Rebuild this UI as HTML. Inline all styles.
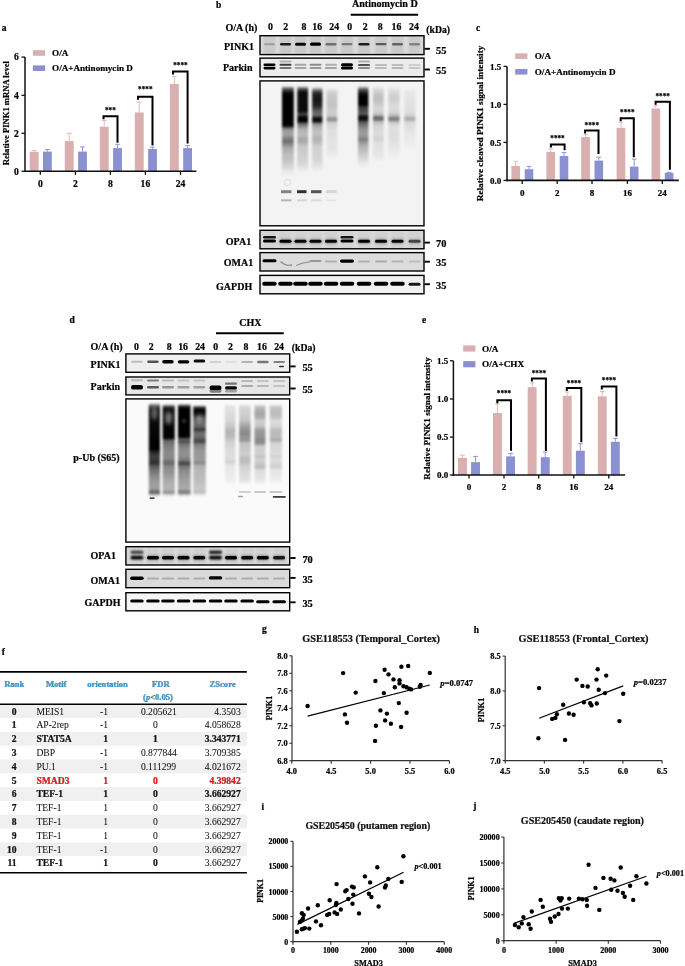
<!DOCTYPE html><html><head><meta charset="utf-8"><title>Figure</title><style>html,body{margin:0;padding:0;background:#fff;width:685px;height:966px;overflow:hidden}svg{display:block;will-change:transform;font-family:"Liberation Serif",serif;font-weight:bold}text{stroke:#000;stroke-width:.22px;paint-order:stroke}text[font-weight="normal"]{stroke-width:.06px}</style></head><body>
<svg width="685" height="966" viewBox="0 0 685 966">
<defs>
<filter id="b05" x="-50%" y="-200%" width="200%" height="500%"><feGaussianBlur stdDeviation="0.5"/></filter>
<filter id="b08" x="-50%" y="-200%" width="200%" height="500%"><feGaussianBlur stdDeviation="0.8"/></filter>
<filter id="b12" x="-50%" y="-100%" width="200%" height="300%"><feGaussianBlur stdDeviation="1.2"/></filter>
<filter id="b20" x="-50%" y="-50%" width="200%" height="200%"><feGaussianBlur stdDeviation="2"/></filter>
<linearGradient id="fadeDown" x1="0" y1="0" x2="0" y2="1"><stop offset="0" stop-color="#000" stop-opacity="1"/><stop offset="1" stop-color="#000" stop-opacity="0"/></linearGradient>
</defs>
<text x="1.8" y="31.0" font-size="9.5" >a</text>
<text x="216.1" y="8.4" font-size="9.5" >b</text>
<text x="476.0" y="30.9" font-size="9.5" >c</text>
<text x="69.4" y="323.0" font-size="9.5" >d</text>
<text x="422.0" y="322.6" font-size="9.5" >e</text>
<text x="1.8" y="655.4" font-size="9.5" >f</text>
<text x="261.9" y="632.2" font-size="9.5" >g</text>
<text x="473.8" y="633.2" font-size="9.5" >h</text>
<text x="261.6" y="809.5" font-size="9.5" >i</text>
<text x="473.2" y="809.2" font-size="9.5" >j</text>
<line x1="34.1" y1="151.8" x2="34.1" y2="150.4" stroke="#dfb9b9" stroke-width="1" />
<line x1="31.7" y1="150.4" x2="36.5" y2="150.4" stroke="#dfb9b9" stroke-width="1" />
<line x1="47.4" y1="151.6" x2="47.4" y2="149.5" stroke="#9196d6" stroke-width="1" />
<line x1="45.0" y1="149.5" x2="49.8" y2="149.5" stroke="#9196d6" stroke-width="1" />
<rect x="29.7" y="151.8" width="8.9" height="19.5" fill="#d9afaf" />
<rect x="43.0" y="151.6" width="8.8" height="19.7" fill="#8b90d0" />
<line x1="69.2" y1="141.1" x2="69.2" y2="133.3" stroke="#dfb9b9" stroke-width="1" />
<line x1="66.8" y1="133.3" x2="71.7" y2="133.3" stroke="#dfb9b9" stroke-width="1" />
<line x1="82.5" y1="151.6" x2="82.5" y2="146.9" stroke="#9196d6" stroke-width="1" />
<line x1="80.1" y1="146.9" x2="84.9" y2="146.9" stroke="#9196d6" stroke-width="1" />
<rect x="64.8" y="141.1" width="8.9" height="30.2" fill="#d9afaf" />
<rect x="78.1" y="151.6" width="8.8" height="19.7" fill="#8b90d0" />
<line x1="104.2" y1="126.7" x2="104.2" y2="120.4" stroke="#dfb9b9" stroke-width="1" />
<line x1="101.8" y1="120.4" x2="106.7" y2="120.4" stroke="#dfb9b9" stroke-width="1" />
<line x1="117.5" y1="148.1" x2="117.5" y2="144.3" stroke="#9196d6" stroke-width="1" />
<line x1="115.1" y1="144.3" x2="119.9" y2="144.3" stroke="#9196d6" stroke-width="1" />
<rect x="99.8" y="126.7" width="8.9" height="44.6" fill="#d9afaf" />
<rect x="113.1" y="148.1" width="8.8" height="23.2" fill="#8b90d0" />
<line x1="139.2" y1="112.5" x2="139.2" y2="102.0" stroke="#dfb9b9" stroke-width="1" />
<line x1="136.8" y1="102.0" x2="141.7" y2="102.0" stroke="#dfb9b9" stroke-width="1" />
<line x1="152.5" y1="149.0" x2="152.5" y2="147.2" stroke="#9196d6" stroke-width="1" />
<line x1="150.1" y1="147.2" x2="154.9" y2="147.2" stroke="#9196d6" stroke-width="1" />
<rect x="134.8" y="112.5" width="8.9" height="58.8" fill="#d9afaf" />
<rect x="148.1" y="149.0" width="8.8" height="22.3" fill="#8b90d0" />
<line x1="174.4" y1="84.0" x2="174.4" y2="76.4" stroke="#dfb9b9" stroke-width="1" />
<line x1="172.0" y1="76.4" x2="176.8" y2="76.4" stroke="#dfb9b9" stroke-width="1" />
<line x1="187.6" y1="148.1" x2="187.6" y2="145.6" stroke="#9196d6" stroke-width="1" />
<line x1="185.2" y1="145.6" x2="190.0" y2="145.6" stroke="#9196d6" stroke-width="1" />
<rect x="169.9" y="84.0" width="8.9" height="87.3" fill="#d9afaf" />
<rect x="183.2" y="148.1" width="8.8" height="23.2" fill="#8b90d0" />
<line x1="25.0" y1="57.1" x2="25.0" y2="172.1" stroke="#111" stroke-width="1.5" />
<line x1="24.2" y1="171.3" x2="196.4" y2="171.3" stroke="#111" stroke-width="1.6" />
<line x1="21.5" y1="57.1" x2="25.0" y2="57.1" stroke="#111" stroke-width="1.3" />
<text x="18.9" y="60.3" font-size="9.6" text-anchor="end" >6</text>
<line x1="21.5" y1="95.3" x2="25.0" y2="95.3" stroke="#111" stroke-width="1.3" />
<text x="18.9" y="98.5" font-size="9.6" text-anchor="end" >4</text>
<line x1="21.5" y1="133.3" x2="25.0" y2="133.3" stroke="#111" stroke-width="1.3" />
<text x="18.9" y="136.5" font-size="9.6" text-anchor="end" >2</text>
<line x1="21.5" y1="171.3" x2="25.0" y2="171.3" stroke="#111" stroke-width="1.3" />
<text x="18.9" y="174.5" font-size="9.6" text-anchor="end" >0</text>
<line x1="40.3" y1="171.3" x2="40.3" y2="174.8" stroke="#111" stroke-width="1.3" />
<text x="40.3" y="187.4" font-size="9.6" text-anchor="middle" >0</text>
<line x1="75.4" y1="171.3" x2="75.4" y2="174.8" stroke="#111" stroke-width="1.3" />
<text x="75.4" y="187.4" font-size="9.6" text-anchor="middle" >2</text>
<line x1="110.4" y1="171.3" x2="110.4" y2="174.8" stroke="#111" stroke-width="1.3" />
<text x="110.4" y="187.4" font-size="9.6" text-anchor="middle" >8</text>
<line x1="145.4" y1="171.3" x2="145.4" y2="174.8" stroke="#111" stroke-width="1.3" />
<text x="145.4" y="187.4" font-size="9.6" text-anchor="middle" >16</text>
<line x1="180.5" y1="171.3" x2="180.5" y2="174.8" stroke="#111" stroke-width="1.3" />
<text x="180.5" y="187.4" font-size="9.6" text-anchor="middle" >24</text>
<path d="M103.5,119.2 V116.2 H117.5 V142.8" fill="none" stroke="#000" stroke-width="2"/>
<path d="M138.0,99.8 V96.8 H152.5 V145.4" fill="none" stroke="#000" stroke-width="2"/>
<path d="M173.0,74.4 V71.4 H187.6 V143.5" fill="none" stroke="#000" stroke-width="2"/>
<text x="110.4" y="113.1" font-size="7.2" text-anchor="middle" >***</text>
<text x="145.3" y="91.6" font-size="7.2" text-anchor="middle" >****</text>
<text x="180.4" y="67.6" font-size="7.2" text-anchor="middle" >****</text>
<rect x="32.9" y="50.2" width="12.2" height="5.6" fill="#d9afaf" />
<rect x="32.9" y="65.4" width="12.2" height="5.6" fill="#8b90d0" />
<text x="52.1" y="56.1" font-size="9.1" >O/A</text>
<text x="52.1" y="71.2" font-size="9.1" >O/A+Antinomycin D</text>
<text transform="translate(9.3,165.3) rotate(-90)" font-size="8.6" text-anchor="start">Relative PINK1 mRNA level</text>
<line x1="515.8" y1="166.0" x2="515.8" y2="161.3" stroke="#dfb9b9" stroke-width="1" />
<line x1="513.4" y1="161.3" x2="518.1" y2="161.3" stroke="#dfb9b9" stroke-width="1" />
<line x1="529.0" y1="169.2" x2="529.0" y2="166.4" stroke="#9196d6" stroke-width="1" />
<line x1="526.6" y1="166.4" x2="531.4" y2="166.4" stroke="#9196d6" stroke-width="1" />
<rect x="511.4" y="166.0" width="8.7" height="14.4" fill="#d9afaf" />
<rect x="524.7" y="169.2" width="8.6" height="11.2" fill="#8b90d0" />
<line x1="550.8" y1="152.0" x2="550.8" y2="148.9" stroke="#dfb9b9" stroke-width="1" />
<line x1="548.4" y1="148.9" x2="553.1" y2="148.9" stroke="#dfb9b9" stroke-width="1" />
<line x1="564.0" y1="156.0" x2="564.0" y2="152.6" stroke="#9196d6" stroke-width="1" />
<line x1="561.6" y1="152.6" x2="566.4" y2="152.6" stroke="#9196d6" stroke-width="1" />
<rect x="546.4" y="152.0" width="8.7" height="28.4" fill="#d9afaf" />
<rect x="559.7" y="156.0" width="8.6" height="24.4" fill="#8b90d0" />
<line x1="585.5" y1="137.1" x2="585.5" y2="134.6" stroke="#dfb9b9" stroke-width="1" />
<line x1="583.1" y1="134.6" x2="587.9" y2="134.6" stroke="#dfb9b9" stroke-width="1" />
<line x1="598.8" y1="160.6" x2="598.8" y2="157.2" stroke="#9196d6" stroke-width="1" />
<line x1="596.4" y1="157.2" x2="601.2" y2="157.2" stroke="#9196d6" stroke-width="1" />
<rect x="581.2" y="137.1" width="8.7" height="43.3" fill="#d9afaf" />
<rect x="594.5" y="160.6" width="8.6" height="19.8" fill="#8b90d0" />
<line x1="621.0" y1="127.8" x2="621.0" y2="122.3" stroke="#dfb9b9" stroke-width="1" />
<line x1="618.6" y1="122.3" x2="623.4" y2="122.3" stroke="#dfb9b9" stroke-width="1" />
<line x1="634.2" y1="166.6" x2="634.2" y2="159.2" stroke="#9196d6" stroke-width="1" />
<line x1="631.8" y1="159.2" x2="636.6" y2="159.2" stroke="#9196d6" stroke-width="1" />
<rect x="616.6" y="127.8" width="8.7" height="52.6" fill="#d9afaf" />
<rect x="629.9" y="166.6" width="8.6" height="13.8" fill="#8b90d0" />
<line x1="655.8" y1="108.5" x2="655.8" y2="105.7" stroke="#dfb9b9" stroke-width="1" />
<line x1="653.4" y1="105.7" x2="658.2" y2="105.7" stroke="#dfb9b9" stroke-width="1" />
<line x1="669.1" y1="172.8" x2="669.1" y2="172.3" stroke="#9196d6" stroke-width="1" />
<line x1="666.7" y1="172.3" x2="671.5" y2="172.3" stroke="#9196d6" stroke-width="1" />
<rect x="651.5" y="108.5" width="8.7" height="71.9" fill="#d9afaf" />
<rect x="664.8" y="172.8" width="8.6" height="7.6" fill="#8b90d0" />
<line x1="507.0" y1="66.4" x2="507.0" y2="181.2" stroke="#111" stroke-width="1.5" />
<line x1="506.2" y1="180.4" x2="678.8" y2="180.4" stroke="#111" stroke-width="1.6" />
<line x1="503.5" y1="66.4" x2="507.0" y2="66.4" stroke="#111" stroke-width="1.3" />
<text x="501.2" y="69.6" font-size="9" text-anchor="end" >1.5</text>
<line x1="503.5" y1="104.4" x2="507.0" y2="104.4" stroke="#111" stroke-width="1.3" />
<text x="501.2" y="107.6" font-size="9" text-anchor="end" >1.0</text>
<line x1="503.5" y1="142.4" x2="507.0" y2="142.4" stroke="#111" stroke-width="1.3" />
<text x="501.2" y="145.6" font-size="9" text-anchor="end" >0.5</text>
<line x1="503.5" y1="180.4" x2="507.0" y2="180.4" stroke="#111" stroke-width="1.3" />
<text x="501.2" y="183.6" font-size="9" text-anchor="end" >0.0</text>
<line x1="522.2" y1="180.4" x2="522.2" y2="183.9" stroke="#111" stroke-width="1.3" />
<text x="522.2" y="195.8" font-size="9" text-anchor="middle" >0</text>
<line x1="557.2" y1="180.4" x2="557.2" y2="183.9" stroke="#111" stroke-width="1.3" />
<text x="557.2" y="195.8" font-size="9" text-anchor="middle" >2</text>
<line x1="592.0" y1="180.4" x2="592.0" y2="183.9" stroke="#111" stroke-width="1.3" />
<text x="592.0" y="195.8" font-size="9" text-anchor="middle" >8</text>
<line x1="627.4" y1="180.4" x2="627.4" y2="183.9" stroke="#111" stroke-width="1.3" />
<text x="627.4" y="195.8" font-size="9" text-anchor="middle" >16</text>
<line x1="662.3" y1="180.4" x2="662.3" y2="183.9" stroke="#111" stroke-width="1.3" />
<text x="662.3" y="195.8" font-size="9" text-anchor="middle" >24</text>
<path d="M550.9,147.5 V144.5 H564.6 V150.3" fill="none" stroke="#000" stroke-width="2"/>
<path d="M585.1,133.4 V130.4 H598.5 V153.9" fill="none" stroke="#000" stroke-width="2"/>
<path d="M620.7,121.3 V118.3 H633.8 V157.2" fill="none" stroke="#000" stroke-width="2"/>
<path d="M655.6,104.8 V101.8 H669.9 V169.8" fill="none" stroke="#000" stroke-width="2"/>
<text x="557.5" y="140.7" font-size="7.2" text-anchor="middle" >****</text>
<text x="591.8" y="127.6" font-size="7.2" text-anchor="middle" >****</text>
<text x="627.3" y="115.2" font-size="7.2" text-anchor="middle" >****</text>
<text x="662.7" y="99.0" font-size="7.2" text-anchor="middle" >****</text>
<rect x="515.2" y="53.3" width="12.2" height="5.6" fill="#d9afaf" />
<rect x="515.2" y="69.0" width="12.2" height="5.6" fill="#8b90d0" />
<text x="534.8" y="59.4" font-size="9.1" >O/A</text>
<text x="534.8" y="74.9" font-size="9.1" >O/A+Antinomycin D</text>
<text transform="translate(482.8,201.3) rotate(-90)" font-size="9.25" text-anchor="start">Relative cleaved PINK1 signal intensity</text>
<line x1="462.4" y1="457.8" x2="462.4" y2="455.2" stroke="#dfb9b9" stroke-width="1" />
<line x1="460.1" y1="455.2" x2="464.8" y2="455.2" stroke="#dfb9b9" stroke-width="1" />
<line x1="475.6" y1="462.2" x2="475.6" y2="456.4" stroke="#9196d6" stroke-width="1" />
<line x1="473.2" y1="456.4" x2="477.9" y2="456.4" stroke="#9196d6" stroke-width="1" />
<rect x="458.0" y="457.8" width="8.9" height="17.2" fill="#d9afaf" />
<rect x="471.1" y="462.2" width="8.9" height="12.8" fill="#8b90d0" />
<line x1="497.4" y1="413.1" x2="497.4" y2="403.9" stroke="#dfb9b9" stroke-width="1" />
<line x1="495.1" y1="403.9" x2="499.8" y2="403.9" stroke="#dfb9b9" stroke-width="1" />
<line x1="510.6" y1="456.4" x2="510.6" y2="453.4" stroke="#9196d6" stroke-width="1" />
<line x1="508.2" y1="453.4" x2="513.0" y2="453.4" stroke="#9196d6" stroke-width="1" />
<rect x="493.0" y="413.1" width="8.9" height="61.9" fill="#d9afaf" />
<rect x="506.1" y="456.4" width="8.9" height="18.6" fill="#8b90d0" />
<line x1="532.2" y1="387.2" x2="532.2" y2="382.8" stroke="#dfb9b9" stroke-width="1" />
<line x1="529.8" y1="382.8" x2="534.6" y2="382.8" stroke="#dfb9b9" stroke-width="1" />
<line x1="545.2" y1="457.2" x2="545.2" y2="452.0" stroke="#9196d6" stroke-width="1" />
<line x1="542.9" y1="452.0" x2="547.6" y2="452.0" stroke="#9196d6" stroke-width="1" />
<rect x="527.7" y="387.2" width="8.9" height="87.8" fill="#d9afaf" />
<rect x="540.8" y="457.2" width="8.9" height="17.8" fill="#8b90d0" />
<line x1="567.2" y1="395.9" x2="567.2" y2="392.0" stroke="#dfb9b9" stroke-width="1" />
<line x1="564.9" y1="392.0" x2="569.6" y2="392.0" stroke="#dfb9b9" stroke-width="1" />
<line x1="580.3" y1="450.7" x2="580.3" y2="443.7" stroke="#9196d6" stroke-width="1" />
<line x1="577.9" y1="443.7" x2="582.7" y2="443.7" stroke="#9196d6" stroke-width="1" />
<rect x="562.8" y="395.9" width="8.9" height="79.1" fill="#d9afaf" />
<rect x="575.9" y="450.7" width="8.9" height="24.3" fill="#8b90d0" />
<line x1="602.2" y1="396.3" x2="602.2" y2="391.5" stroke="#dfb9b9" stroke-width="1" />
<line x1="599.9" y1="391.5" x2="604.6" y2="391.5" stroke="#dfb9b9" stroke-width="1" />
<line x1="615.3" y1="441.8" x2="615.3" y2="438.5" stroke="#9196d6" stroke-width="1" />
<line x1="612.9" y1="438.5" x2="617.7" y2="438.5" stroke="#9196d6" stroke-width="1" />
<rect x="597.8" y="396.3" width="8.9" height="78.7" fill="#d9afaf" />
<rect x="610.9" y="441.8" width="8.9" height="33.2" fill="#8b90d0" />
<line x1="453.4" y1="360.8" x2="453.4" y2="475.8" stroke="#111" stroke-width="1.5" />
<line x1="452.6" y1="475.0" x2="625.1" y2="475.0" stroke="#111" stroke-width="1.6" />
<line x1="449.9" y1="360.8" x2="453.4" y2="360.8" stroke="#111" stroke-width="1.3" />
<text x="448.3" y="364.0" font-size="9" text-anchor="end" >1.5</text>
<line x1="449.9" y1="399.0" x2="453.4" y2="399.0" stroke="#111" stroke-width="1.3" />
<text x="448.3" y="402.2" font-size="9" text-anchor="end" >1.0</text>
<line x1="449.9" y1="437.1" x2="453.4" y2="437.1" stroke="#111" stroke-width="1.3" />
<text x="448.3" y="440.3" font-size="9" text-anchor="end" >0.5</text>
<line x1="449.9" y1="475.0" x2="453.4" y2="475.0" stroke="#111" stroke-width="1.3" />
<text x="448.3" y="478.2" font-size="9" text-anchor="end" >0.0</text>
<line x1="469.0" y1="475.0" x2="469.0" y2="478.5" stroke="#111" stroke-width="1.3" />
<text x="469.0" y="489.6" font-size="9" text-anchor="middle" >0</text>
<line x1="504.0" y1="475.0" x2="504.0" y2="478.5" stroke="#111" stroke-width="1.3" />
<text x="504.0" y="489.6" font-size="9" text-anchor="middle" >2</text>
<line x1="538.7" y1="475.0" x2="538.7" y2="478.5" stroke="#111" stroke-width="1.3" />
<text x="538.7" y="489.6" font-size="9" text-anchor="middle" >8</text>
<line x1="573.8" y1="475.0" x2="573.8" y2="478.5" stroke="#111" stroke-width="1.3" />
<text x="573.8" y="489.6" font-size="9" text-anchor="middle" >16</text>
<line x1="608.8" y1="475.0" x2="608.8" y2="478.5" stroke="#111" stroke-width="1.3" />
<text x="608.8" y="489.6" font-size="9" text-anchor="middle" >24</text>
<path d="M497.3,403.2 V400.2 H511.0 V450.8" fill="none" stroke="#000" stroke-width="2"/>
<path d="M531.9,381.4 V378.4 H545.9 V451.1" fill="none" stroke="#000" stroke-width="2"/>
<path d="M566.8,391.0 V388.0 H581.3 V442.3" fill="none" stroke="#000" stroke-width="2"/>
<path d="M601.8,389.6 V386.6 H616.4 V436.6" fill="none" stroke="#000" stroke-width="2"/>
<text x="504.0" y="395.9" font-size="7.2" text-anchor="middle" >****</text>
<text x="538.9" y="376.2" font-size="7.2" text-anchor="middle" >****</text>
<text x="574.0" y="385.5" font-size="7.2" text-anchor="middle" >****</text>
<text x="609.0" y="382.9" font-size="7.2" text-anchor="middle" >****</text>
<rect x="463.2" y="345.4" width="12.2" height="6.2" fill="#d9afaf" />
<rect x="463.2" y="361.1" width="12.2" height="6.2" fill="#8b90d0" />
<text x="482.1" y="352.0" font-size="9.2" >O/A</text>
<text x="482.1" y="367.4" font-size="9.2" >O/A+CHX</text>
<text transform="translate(430.4,479.7) rotate(-90)" font-size="9.15" text-anchor="start">Relative PINK1 signal intensity</text>
<text x="225.4" y="30.6" font-size="10" >O/A (h)</text>
<text x="270.4" y="30.4" font-size="9.8" text-anchor="middle" >0</text>
<text x="285.8" y="30.4" font-size="9.8" text-anchor="middle" >2</text>
<text x="304.0" y="30.4" font-size="9.8" text-anchor="middle" >8</text>
<text x="317.2" y="30.4" font-size="9.8" text-anchor="middle" >16</text>
<text x="334.2" y="30.4" font-size="9.8" text-anchor="middle" >24</text>
<text x="349.8" y="30.4" font-size="9.8" text-anchor="middle" >0</text>
<text x="365.2" y="30.4" font-size="9.8" text-anchor="middle" >2</text>
<text x="380.3" y="30.4" font-size="9.8" text-anchor="middle" >8</text>
<text x="396.5" y="30.4" font-size="9.8" text-anchor="middle" >16</text>
<text x="414.0" y="30.4" font-size="9.8" text-anchor="middle" >24</text>
<text x="351.9" y="7.3" font-size="10.1" >Antinomycin D</text>
<line x1="350.7" y1="14.8" x2="418.1" y2="14.8" stroke="#000" stroke-width="2" />
<text x="426.3" y="33.4" font-size="9.7" >(kDa)</text>
<line x1="424.6" y1="48.8" x2="429.9" y2="48.8" stroke="#000" stroke-width="1.9" />
<text x="436.0" y="53.5" font-size="10.4" >55</text>
<line x1="424.6" y1="69.5" x2="429.9" y2="69.5" stroke="#000" stroke-width="1.9" />
<text x="436.0" y="74.2" font-size="10.4" >55</text>
<line x1="424.6" y1="242.6" x2="429.9" y2="242.6" stroke="#000" stroke-width="1.9" />
<text x="436.0" y="247.3" font-size="10.4" >70</text>
<line x1="424.6" y1="261.7" x2="429.9" y2="261.7" stroke="#000" stroke-width="1.9" />
<text x="436.0" y="266.4" font-size="10.4" >35</text>
<line x1="424.6" y1="284.2" x2="429.9" y2="284.2" stroke="#000" stroke-width="1.9" />
<text x="436.0" y="288.9" font-size="10.4" >35</text>
<text x="224.0" y="50.3" font-size="10" >PINK1</text>
<text x="223.0" y="71.0" font-size="10" >Parkin</text>
<text x="225.8" y="245.4" font-size="10" >OPA1</text>
<text x="223.7" y="265.9" font-size="10" >OMA1</text>
<text x="216.1" y="289.7" font-size="10" >GAPDH</text>
<clipPath id="c1"><rect x="260.0" y="35.7" width="164.0" height="18.9"/></clipPath>
<rect x="260.0" y="35.7" width="164.0" height="18.9" fill="#dadada"/>
<g clip-path="url(#c1)">
<rect x="263.5" y="35.7" width="12" height="18.9" fill="#000" opacity="0.07" filter="url(#b12)"/>
<rect x="279.5" y="35.7" width="12" height="18.9" fill="#000" opacity="0.07" filter="url(#b12)"/>
<rect x="294.5" y="35.7" width="12" height="18.9" fill="#000" opacity="0.07" filter="url(#b12)"/>
<rect x="309.5" y="35.7" width="12" height="18.9" fill="#000" opacity="0.07" filter="url(#b12)"/>
<rect x="325.0" y="35.7" width="12" height="18.9" fill="#000" opacity="0.07" filter="url(#b12)"/>
<rect x="341.0" y="35.7" width="12" height="18.9" fill="#000" opacity="0.07" filter="url(#b12)"/>
<rect x="358.0" y="35.7" width="12" height="18.9" fill="#000" opacity="0.07" filter="url(#b12)"/>
<rect x="375.0" y="35.7" width="12" height="18.9" fill="#000" opacity="0.07" filter="url(#b12)"/>
<rect x="391.5" y="35.7" width="12" height="18.9" fill="#000" opacity="0.07" filter="url(#b12)"/>
<rect x="408.5" y="35.7" width="12" height="18.9" fill="#000" opacity="0.07" filter="url(#b12)"/>
<rect x="264.0" y="43.2" width="11.0" height="2.0" rx="1.0" fill="#000" opacity="0.22" filter="url(#b05)"/>
<rect x="280.0" y="42.9" width="11.0" height="2.6" rx="1.3" fill="#000" opacity="0.85" filter="url(#b05)"/>
<rect x="295.0" y="42.7" width="11.0" height="3.0" rx="1.5" fill="#000" opacity="0.95" filter="url(#b05)"/>
<rect x="310.0" y="42.6" width="11.0" height="3.2" rx="1.6" fill="#000" opacity="1" filter="url(#b05)"/>
<rect x="325.5" y="43.0" width="11.0" height="2.4" rx="1.2" fill="#000" opacity="0.45" filter="url(#b05)"/>
<rect x="341.5" y="43.1" width="11.0" height="2.2" rx="1.1" fill="#000" opacity="0.4" filter="url(#b05)"/>
<rect x="358.5" y="42.9" width="11.0" height="2.6" rx="1.3" fill="#000" opacity="0.85" filter="url(#b05)"/>
<rect x="375.5" y="43.1" width="11.0" height="2.2" rx="1.1" fill="#000" opacity="0.55" filter="url(#b05)"/>
<rect x="392.0" y="43.0" width="11.0" height="2.4" rx="1.2" fill="#000" opacity="0.5" filter="url(#b05)"/>
<rect x="409.0" y="43.0" width="11.0" height="2.4" rx="1.2" fill="#000" opacity="0.35" filter="url(#b05)"/>

</g>
<rect x="260.0" y="35.7" width="164.0" height="18.9" fill="none" stroke="#000" stroke-width="1.4"/>
<clipPath id="c2"><rect x="260.0" y="58.1" width="164.0" height="18.7"/></clipPath>
<rect x="260.0" y="58.1" width="164.0" height="18.7" fill="#ececec"/>
<g clip-path="url(#c2)">
<rect x="263.5" y="63.5" width="12.0" height="2.6" rx="1.3" fill="#000" opacity="1" filter="url(#b05)"/>
<rect x="263.5" y="66.8" width="12.0" height="2.6" rx="1.3" fill="#000" opacity="1" filter="url(#b05)"/>
<rect x="279.5" y="60.5" width="12.0" height="2.0" rx="1.0" fill="#000" opacity="0.25" filter="url(#b05)"/>
<rect x="279.5" y="63.8" width="12.0" height="2.0" rx="1.0" fill="#000" opacity="0.75" filter="url(#b05)"/>
<rect x="279.5" y="67.1" width="12.0" height="2.0" rx="1.0" fill="#000" opacity="0.5" filter="url(#b05)"/>
<rect x="294.5" y="63.8" width="12.0" height="2.0" rx="1.0" fill="#000" opacity="0.3" filter="url(#b05)"/>
<rect x="294.5" y="67.1" width="12.0" height="2.0" rx="1.0" fill="#000" opacity="0.3" filter="url(#b05)"/>
<rect x="309.5" y="63.8" width="12.0" height="2.0" rx="1.0" fill="#000" opacity="0.4" filter="url(#b05)"/>
<rect x="309.5" y="67.1" width="12.0" height="2.0" rx="1.0" fill="#000" opacity="0.35" filter="url(#b05)"/>
<rect x="325.0" y="63.8" width="12.0" height="2.0" rx="1.0" fill="#000" opacity="0.25" filter="url(#b05)"/>
<rect x="325.0" y="67.1" width="12.0" height="2.0" rx="1.0" fill="#000" opacity="0.3" filter="url(#b05)"/>
<rect x="341.0" y="63.3" width="12.0" height="3.0" rx="1.5" fill="#000" opacity="1" filter="url(#b05)"/>
<rect x="341.0" y="66.6" width="12.0" height="3.0" rx="1.5" fill="#000" opacity="1" filter="url(#b05)"/>
<rect x="358.0" y="60.6" width="12.0" height="2.0" rx="1.0" fill="#000" opacity="0.25" filter="url(#b05)"/>
<rect x="358.0" y="64.0" width="12.0" height="2.0" rx="1.0" fill="#000" opacity="0.65" filter="url(#b05)"/>
<rect x="358.0" y="67.0" width="12.0" height="2.0" rx="1.0" fill="#000" opacity="0.4" filter="url(#b05)"/>
<rect x="375.0" y="64.0" width="12.0" height="2.0" rx="1.0" fill="#000" opacity="0.2" filter="url(#b05)"/>
<rect x="375.0" y="67.0" width="12.0" height="2.0" rx="1.0" fill="#000" opacity="0.2" filter="url(#b05)"/>
<rect x="391.5" y="64.0" width="12.0" height="2.0" rx="1.0" fill="#000" opacity="0.2" filter="url(#b05)"/>
<rect x="391.5" y="67.0" width="12.0" height="2.0" rx="1.0" fill="#000" opacity="0.22" filter="url(#b05)"/>
<rect x="408.5" y="64.0" width="12.0" height="2.0" rx="1.0" fill="#000" opacity="0.12" filter="url(#b05)"/>
<rect x="408.5" y="67.0" width="12.0" height="2.0" rx="1.0" fill="#000" opacity="0.15" filter="url(#b05)"/>

</g>
<rect x="260.0" y="58.1" width="164.0" height="18.7" fill="none" stroke="#000" stroke-width="1.4"/>
<clipPath id="c3"><rect x="260.0" y="80.9" width="164.0" height="144.9"/></clipPath>
<rect x="260.0" y="80.9" width="164.0" height="144.9" fill="#f3f3f3"/>
<g clip-path="url(#c3)">
<linearGradient id="g1" gradientUnits="userSpaceOnUse" x1="0" y1="86" x2="0" y2="176"><stop offset="0.0000" stop-opacity="0"/><stop offset="0.0278" stop-opacity="0.6"/><stop offset="0.0667" stop-opacity="0.9"/><stop offset="0.0889" stop-opacity="1"/><stop offset="0.4389" stop-opacity="1"/><stop offset="0.4722" stop-opacity="0.5"/><stop offset="0.5000" stop-opacity="0.35"/><stop offset="0.5444" stop-opacity="0.33"/><stop offset="0.5889" stop-opacity="0.5"/><stop offset="0.6222" stop-opacity="0.55"/><stop offset="0.6556" stop-opacity="0.4"/><stop offset="0.7000" stop-opacity="0.28"/><stop offset="0.7667" stop-opacity="0.22"/><stop offset="0.8444" stop-opacity="0.18"/><stop offset="0.9111" stop-opacity="0.1"/><stop offset="0.9556" stop-opacity="0.04"/><stop offset="1.0000" stop-opacity="0"/></linearGradient><rect x="282.0" y="86.0" width="11.8" height="90.0" rx="1.5" fill="url(#g1)" filter="url(#b12)"/><linearGradient id="g2" gradientUnits="userSpaceOnUse" x1="0" y1="86" x2="0" y2="172"><stop offset="0.0000" stop-opacity="0"/><stop offset="0.0291" stop-opacity="0.6"/><stop offset="0.0698" stop-opacity="0.95"/><stop offset="0.3023" stop-opacity="0.95"/><stop offset="0.3198" stop-opacity="0.7"/><stop offset="0.3430" stop-opacity="0.8"/><stop offset="0.3663" stop-opacity="1"/><stop offset="0.4128" stop-opacity="1"/><stop offset="0.4360" stop-opacity="0.6"/><stop offset="0.4651" stop-opacity="0.45"/><stop offset="0.5000" stop-opacity="0.28"/><stop offset="0.5698" stop-opacity="0.22"/><stop offset="0.6163" stop-opacity="0.32"/><stop offset="0.6512" stop-opacity="0.3"/><stop offset="0.6977" stop-opacity="0.18"/><stop offset="0.8605" stop-opacity="0.14"/><stop offset="0.9535" stop-opacity="0.07"/><stop offset="1.0000" stop-opacity="0"/></linearGradient><rect x="297.3" y="86.0" width="10.8" height="86.0" rx="1.5" fill="url(#g2)" filter="url(#b12)"/><linearGradient id="g3" gradientUnits="userSpaceOnUse" x1="0" y1="87" x2="0" y2="172"><stop offset="0.0000" stop-opacity="0"/><stop offset="0.0294" stop-opacity="0.45"/><stop offset="0.0706" stop-opacity="0.85"/><stop offset="0.1529" stop-opacity="0.92"/><stop offset="0.2235" stop-opacity="0.85"/><stop offset="0.2706" stop-opacity="0.65"/><stop offset="0.3176" stop-opacity="0.55"/><stop offset="0.3412" stop-opacity="0.6"/><stop offset="0.3647" stop-opacity="0.95"/><stop offset="0.4059" stop-opacity="0.95"/><stop offset="0.4294" stop-opacity="0.45"/><stop offset="0.4706" stop-opacity="0.28"/><stop offset="0.5294" stop-opacity="0.2"/><stop offset="0.6118" stop-opacity="0.26"/><stop offset="0.6471" stop-opacity="0.24"/><stop offset="0.6941" stop-opacity="0.15"/><stop offset="0.8588" stop-opacity="0.12"/><stop offset="0.9529" stop-opacity="0.05"/><stop offset="1.0000" stop-opacity="0"/></linearGradient><rect x="312.1" y="87.0" width="10.3" height="85.0" rx="1.5" fill="url(#g3)" filter="url(#b12)"/><linearGradient id="g4" gradientUnits="userSpaceOnUse" x1="0" y1="88" x2="0" y2="160"><stop offset="0.0000" stop-opacity="0"/><stop offset="0.0417" stop-opacity="0.12"/><stop offset="0.1111" stop-opacity="0.18"/><stop offset="0.2361" stop-opacity="0.2"/><stop offset="0.3333" stop-opacity="0.15"/><stop offset="0.3889" stop-opacity="0.18"/><stop offset="0.4236" stop-opacity="0.4"/><stop offset="0.4514" stop-opacity="0.4"/><stop offset="0.4792" stop-opacity="0.15"/><stop offset="0.5833" stop-opacity="0.08"/><stop offset="0.8611" stop-opacity="0.06"/><stop offset="1.0000" stop-opacity="0"/></linearGradient><rect x="326.6" y="88.0" width="10.7" height="72.0" rx="1.5" fill="url(#g4)" filter="url(#b08)"/><linearGradient id="g5" gradientUnits="userSpaceOnUse" x1="0" y1="86" x2="0" y2="168"><stop offset="0.0000" stop-opacity="0"/><stop offset="0.0366" stop-opacity="0.6"/><stop offset="0.0854" stop-opacity="0.9"/><stop offset="0.1220" stop-opacity="1"/><stop offset="0.2317" stop-opacity="1"/><stop offset="0.2561" stop-opacity="0.75"/><stop offset="0.2927" stop-opacity="0.72"/><stop offset="0.3415" stop-opacity="0.62"/><stop offset="0.3720" stop-opacity="0.95"/><stop offset="0.4146" stop-opacity="0.95"/><stop offset="0.4390" stop-opacity="0.62"/><stop offset="0.4756" stop-opacity="0.55"/><stop offset="0.5122" stop-opacity="0.42"/><stop offset="0.5732" stop-opacity="0.35"/><stop offset="0.6220" stop-opacity="0.4"/><stop offset="0.6524" stop-opacity="0.5"/><stop offset="0.6829" stop-opacity="0.38"/><stop offset="0.7317" stop-opacity="0.28"/><stop offset="0.8049" stop-opacity="0.2"/><stop offset="0.8780" stop-opacity="0.12"/><stop offset="0.9390" stop-opacity="0.05"/><stop offset="1.0000" stop-opacity="0"/></linearGradient><rect x="358.0" y="86.0" width="10.4" height="82.0" rx="1.5" fill="url(#g5)" filter="url(#b08)"/><linearGradient id="g6" gradientUnits="userSpaceOnUse" x1="0" y1="86" x2="0" y2="162"><stop offset="0.0000" stop-opacity="0"/><stop offset="0.0395" stop-opacity="0.1"/><stop offset="0.1184" stop-opacity="0.2"/><stop offset="0.1711" stop-opacity="0.22"/><stop offset="0.2368" stop-opacity="0.17"/><stop offset="0.2895" stop-opacity="0.12"/><stop offset="0.3421" stop-opacity="0.14"/><stop offset="0.3816" stop-opacity="0.22"/><stop offset="0.4079" stop-opacity="0.55"/><stop offset="0.4408" stop-opacity="0.6"/><stop offset="0.4671" stop-opacity="0.25"/><stop offset="0.5263" stop-opacity="0.12"/><stop offset="0.6447" stop-opacity="0.1"/><stop offset="0.6974" stop-opacity="0.14"/><stop offset="0.7500" stop-opacity="0.08"/><stop offset="0.9079" stop-opacity="0.05"/><stop offset="1.0000" stop-opacity="0"/></linearGradient><rect x="373.0" y="86.0" width="10.7" height="76.0" rx="1.5" fill="url(#g6)" filter="url(#b08)"/><linearGradient id="g7" gradientUnits="userSpaceOnUse" x1="0" y1="86" x2="0" y2="160"><stop offset="0.0000" stop-opacity="0"/><stop offset="0.0405" stop-opacity="0.07"/><stop offset="0.1351" stop-opacity="0.15"/><stop offset="0.1892" stop-opacity="0.15"/><stop offset="0.2703" stop-opacity="0.1"/><stop offset="0.3514" stop-opacity="0.11"/><stop offset="0.4054" stop-opacity="0.25"/><stop offset="0.4324" stop-opacity="0.5"/><stop offset="0.4595" stop-opacity="0.5"/><stop offset="0.4865" stop-opacity="0.18"/><stop offset="0.5541" stop-opacity="0.08"/><stop offset="0.7162" stop-opacity="0.09"/><stop offset="0.8649" stop-opacity="0.04"/><stop offset="1.0000" stop-opacity="0"/></linearGradient><rect x="388.3" y="86.0" width="11.3" height="74.0" rx="1.5" fill="url(#g7)" filter="url(#b08)"/><linearGradient id="g8" gradientUnits="userSpaceOnUse" x1="0" y1="88" x2="0" y2="150"><stop offset="0.0000" stop-opacity="0"/><stop offset="0.0645" stop-opacity="0.05"/><stop offset="0.1935" stop-opacity="0.07"/><stop offset="0.3871" stop-opacity="0.08"/><stop offset="0.4516" stop-opacity="0.15"/><stop offset="0.4839" stop-opacity="0.3"/><stop offset="0.5161" stop-opacity="0.3"/><stop offset="0.5484" stop-opacity="0.1"/><stop offset="0.7581" stop-opacity="0.05"/><stop offset="1.0000" stop-opacity="0"/></linearGradient><rect x="404.2" y="88.0" width="11.2" height="62.0" rx="1.5" fill="url(#g8)" filter="url(#b08)"/><rect x="281.0" y="190.2" width="10.5" height="3.0" fill="#000" opacity="0.45" filter="url(#b05)"/><rect x="281.0" y="199.3" width="10.5" height="2.0" fill="#000" opacity="0.25" filter="url(#b05)"/><rect x="297.0" y="190.2" width="9.5" height="3.0" fill="#000" opacity="0.8" filter="url(#b05)"/><rect x="297.0" y="199.3" width="9.5" height="2.0" fill="#000" opacity="0.12" filter="url(#b05)"/><rect x="311.0" y="190.2" width="10.5" height="3.0" fill="#000" opacity="0.65" filter="url(#b05)"/><rect x="311.0" y="199.3" width="10.5" height="2.0" fill="#000" opacity="0.1" filter="url(#b05)"/><rect x="326.0" y="190.2" width="10.5" height="3.0" fill="#000" opacity="0.12" filter="url(#b05)"/><rect x="326.0" y="199.3" width="10.5" height="2.0" fill="#000" opacity="0.05" filter="url(#b05)"/><circle cx="287.5" cy="182.5" r="3.2" fill="none" stroke="#000" stroke-width=".8" opacity=".12"/>
</g>
<rect x="260.0" y="80.9" width="164.0" height="144.9" fill="none" stroke="#000" stroke-width="1.4"/>
<clipPath id="c4"><rect x="260.0" y="230.3" width="164.0" height="18.5"/></clipPath>
<rect x="260.0" y="230.3" width="164.0" height="18.5" fill="#d8d8d8"/>
<g clip-path="url(#c4)">
<rect x="263.5" y="230.3" width="12" height="18.5" fill="#000" opacity="0.03" filter="url(#b12)"/>
<rect x="279.5" y="230.3" width="12" height="18.5" fill="#000" opacity="0.03" filter="url(#b12)"/>
<rect x="294.5" y="230.3" width="12" height="18.5" fill="#000" opacity="0.03" filter="url(#b12)"/>
<rect x="309.5" y="230.3" width="12" height="18.5" fill="#000" opacity="0.03" filter="url(#b12)"/>
<rect x="325.0" y="230.3" width="12" height="18.5" fill="#000" opacity="0.03" filter="url(#b12)"/>
<rect x="341.0" y="230.3" width="12" height="18.5" fill="#000" opacity="0.03" filter="url(#b12)"/>
<rect x="358.0" y="230.3" width="12" height="18.5" fill="#000" opacity="0.03" filter="url(#b12)"/>
<rect x="375.0" y="230.3" width="12" height="18.5" fill="#000" opacity="0.03" filter="url(#b12)"/>
<rect x="391.5" y="230.3" width="12" height="18.5" fill="#000" opacity="0.03" filter="url(#b12)"/>
<rect x="408.5" y="230.3" width="12" height="18.5" fill="#000" opacity="0.03" filter="url(#b12)"/>
<rect x="263.0" y="236.1" width="13.0" height="2.4" rx="1.2" fill="#000" opacity="0.9" filter="url(#b05)"/>
<rect x="263.0" y="239.5" width="13.0" height="3.0" rx="1.5" fill="#000" opacity="1" filter="url(#b05)"/>
<rect x="279.5" y="239.7" width="12.0" height="3.0" rx="1.5" fill="#000" opacity="1" filter="url(#b05)"/>
<rect x="279.0" y="238.7" width="13.0" height="5.0" rx="2.5" fill="#000" opacity="0.3" filter="url(#b08)"/>
<rect x="294.5" y="239.7" width="12.0" height="3.0" rx="1.5" fill="#000" opacity="0.95" filter="url(#b05)"/>
<rect x="294.0" y="238.7" width="13.0" height="5.0" rx="2.5" fill="#000" opacity="0.285" filter="url(#b08)"/>
<rect x="309.5" y="239.7" width="12.0" height="3.0" rx="1.5" fill="#000" opacity="0.95" filter="url(#b05)"/>
<rect x="309.0" y="238.7" width="13.0" height="5.0" rx="2.5" fill="#000" opacity="0.285" filter="url(#b08)"/>
<rect x="325.0" y="239.7" width="12.0" height="3.0" rx="1.5" fill="#000" opacity="0.95" filter="url(#b05)"/>
<rect x="324.5" y="238.7" width="13.0" height="5.0" rx="2.5" fill="#000" opacity="0.285" filter="url(#b08)"/>
<rect x="340.5" y="236.1" width="13.0" height="2.4" rx="1.2" fill="#000" opacity="0.9" filter="url(#b05)"/>
<rect x="340.5" y="239.5" width="13.0" height="3.0" rx="1.5" fill="#000" opacity="1" filter="url(#b05)"/>
<rect x="358.0" y="239.7" width="12.0" height="3.0" rx="1.5" fill="#000" opacity="1" filter="url(#b05)"/>
<rect x="357.5" y="238.7" width="13.0" height="5.0" rx="2.5" fill="#000" opacity="0.3" filter="url(#b08)"/>
<rect x="375.0" y="239.7" width="12.0" height="3.0" rx="1.5" fill="#000" opacity="0.95" filter="url(#b05)"/>
<rect x="374.5" y="238.7" width="13.0" height="5.0" rx="2.5" fill="#000" opacity="0.285" filter="url(#b08)"/>
<rect x="391.5" y="239.7" width="12.0" height="3.0" rx="1.5" fill="#000" opacity="0.95" filter="url(#b05)"/>
<rect x="391.0" y="238.7" width="13.0" height="5.0" rx="2.5" fill="#000" opacity="0.285" filter="url(#b08)"/>
<rect x="408.5" y="239.7" width="12.0" height="3.0" rx="1.5" fill="#000" opacity="0.6" filter="url(#b05)"/>
<rect x="408.0" y="238.7" width="13.0" height="5.0" rx="2.5" fill="#000" opacity="0.18" filter="url(#b08)"/>

</g>
<rect x="260.0" y="230.3" width="164.0" height="18.5" fill="none" stroke="#000" stroke-width="1.4"/>
<clipPath id="c5"><rect x="260.0" y="252.6" width="164.0" height="18.4"/></clipPath>
<rect x="260.0" y="252.6" width="164.0" height="18.4" fill="#dcdcdc"/>
<g clip-path="url(#c5)">
<rect x="262.5" y="259.2" width="14.0" height="3.0" rx="1.5" fill="#000" opacity="1" filter="url(#b05)"/>
<rect x="309.5" y="260.0" width="12.0" height="2.0" rx="1.0" fill="#000" opacity="0.3" filter="url(#b05)"/>
<rect x="325.0" y="260.5" width="12.0" height="2.0" rx="1.0" fill="#000" opacity="0.2" filter="url(#b05)"/>
<rect x="340.0" y="259.4" width="14.0" height="3.4" rx="1.7" fill="#000" opacity="1" filter="url(#b05)"/>
<rect x="358.0" y="260.5" width="12.0" height="2.0" rx="1.0" fill="#000" opacity="0.2" filter="url(#b05)"/>
<rect x="375.0" y="260.5" width="12.0" height="2.0" rx="1.0" fill="#000" opacity="0.22" filter="url(#b05)"/>
<rect x="391.5" y="260.5" width="12.0" height="2.0" rx="1.0" fill="#000" opacity="0.18" filter="url(#b05)"/>
<rect x="408.5" y="260.5" width="12.0" height="2.0" rx="1.0" fill="#000" opacity="0.14" filter="url(#b05)"/>
<path d="M280.5,261.5 Q286,266.5 292,265" fill="none" stroke="#000" stroke-width="1.3" opacity=".35" filter="url(#b05)"/><path d="M296,265.5 Q302,262.5 310,261.8" fill="none" stroke="#000" stroke-width="1.3" opacity=".3" filter="url(#b05)"/>
</g>
<rect x="260.0" y="252.6" width="164.0" height="18.4" fill="none" stroke="#000" stroke-width="1.4"/>
<clipPath id="c6"><rect x="260.0" y="275.4" width="164.0" height="18.4"/></clipPath>
<rect x="260.0" y="275.4" width="164.0" height="18.4" fill="#f1f1f1"/>
<g clip-path="url(#c6)">
<rect x="262.2" y="281.8" width="14.5" height="4.0" rx="2.0" fill="#000" opacity="1" filter="url(#b05)"/>
<rect x="278.2" y="281.8" width="14.5" height="4.0" rx="2.0" fill="#000" opacity="1" filter="url(#b05)"/>
<rect x="293.2" y="281.8" width="14.5" height="4.0" rx="2.0" fill="#000" opacity="1" filter="url(#b05)"/>
<rect x="308.2" y="281.8" width="14.5" height="4.0" rx="2.0" fill="#000" opacity="1" filter="url(#b05)"/>
<rect x="323.8" y="281.8" width="14.5" height="4.0" rx="2.0" fill="#000" opacity="1" filter="url(#b05)"/>
<rect x="339.8" y="281.8" width="14.5" height="4.0" rx="2.0" fill="#000" opacity="1" filter="url(#b05)"/>
<rect x="356.8" y="281.8" width="14.5" height="4.0" rx="2.0" fill="#000" opacity="1" filter="url(#b05)"/>
<rect x="373.8" y="281.8" width="14.5" height="4.0" rx="2.0" fill="#000" opacity="1" filter="url(#b05)"/>
<rect x="390.2" y="281.8" width="14.5" height="4.0" rx="2.0" fill="#000" opacity="1" filter="url(#b05)"/>
<rect x="408.5" y="282.7" width="12.0" height="3.0" rx="1.5" fill="#000" opacity="0.9" filter="url(#b05)"/>

</g>
<rect x="260.0" y="275.4" width="164.0" height="18.4" fill="none" stroke="#000" stroke-width="1.4"/>
<text x="90.6" y="350.0" font-size="10" >O/A (h)</text>
<text x="136.5" y="349.6" font-size="9.8" text-anchor="middle" >0</text>
<text x="151.3" y="349.6" font-size="9.8" text-anchor="middle" >2</text>
<text x="169.3" y="349.6" font-size="9.8" text-anchor="middle" >8</text>
<text x="183.1" y="349.6" font-size="9.8" text-anchor="middle" >16</text>
<text x="200.1" y="349.6" font-size="9.8" text-anchor="middle" >24</text>
<text x="215.6" y="349.6" font-size="9.8" text-anchor="middle" >0</text>
<text x="230.4" y="349.6" font-size="9.8" text-anchor="middle" >2</text>
<text x="246.0" y="349.6" font-size="9.8" text-anchor="middle" >8</text>
<text x="262.0" y="349.6" font-size="9.8" text-anchor="middle" >16</text>
<text x="279.1" y="349.6" font-size="9.8" text-anchor="middle" >24</text>
<text x="239.3" y="326.2" font-size="10" >CHX</text>
<line x1="216.0" y1="333.2" x2="283.7" y2="333.2" stroke="#000" stroke-width="2" />
<text x="291.8" y="351.0" font-size="9.7" >(kDa)</text>
<line x1="290.3" y1="366.4" x2="295.6" y2="366.4" stroke="#000" stroke-width="1.9" />
<text x="302.4" y="371.1" font-size="10.4" >55</text>
<line x1="290.3" y1="388.5" x2="295.6" y2="388.5" stroke="#000" stroke-width="1.9" />
<text x="302.4" y="393.2" font-size="10.4" >55</text>
<line x1="290.3" y1="558.0" x2="295.6" y2="558.0" stroke="#000" stroke-width="1.9" />
<text x="302.4" y="562.7" font-size="10.4" >70</text>
<line x1="290.3" y1="577.9" x2="295.6" y2="577.9" stroke="#000" stroke-width="1.9" />
<text x="302.4" y="582.6" font-size="10.4" >35</text>
<line x1="290.3" y1="602.3" x2="295.6" y2="602.3" stroke="#000" stroke-width="1.9" />
<text x="302.4" y="607.0" font-size="10.4" >35</text>
<text x="90.6" y="367.9" font-size="10" >PINK1</text>
<text x="90.6" y="389.7" font-size="10" >Parkin</text>
<text x="73.3" y="461.3" font-size="10" >p-Ub (S65)</text>
<text x="90.6" y="559.2" font-size="10" >OPA1</text>
<text x="90.6" y="583.5" font-size="10" >OMA1</text>
<text x="84.5" y="605.9" font-size="10" >GAPDH</text>
<clipPath id="c7"><rect x="125.9" y="353.9" width="163.8" height="18.4"/></clipPath>
<rect x="125.9" y="353.9" width="163.8" height="18.4" fill="#efefef"/>
<g clip-path="url(#c7)">
<rect x="131.2" y="360.8" width="11.5" height="2.0" rx="1.0" fill="#000" opacity="0.2" filter="url(#b05)"/>
<rect x="147.2" y="360.6" width="11.5" height="2.4" rx="1.2" fill="#000" opacity="0.65" filter="url(#b05)"/>
<rect x="162.2" y="360.1" width="11.5" height="3.5" rx="1.8" fill="#000" opacity="1" filter="url(#b05)"/>
<rect x="177.8" y="360.2" width="11.5" height="3.2" rx="1.6" fill="#000" opacity="1" filter="url(#b05)"/>
<rect x="193.6" y="359.4" width="11.5" height="3.0" rx="1.5" fill="#000" opacity="0.95" filter="url(#b05)"/>
<rect x="209.8" y="361.0" width="11.5" height="2.0" rx="1.0" fill="#000" opacity="0.12" filter="url(#b05)"/>
<rect x="225.2" y="361.0" width="11.5" height="2.0" rx="1.0" fill="#000" opacity="0.06" filter="url(#b05)"/>
<rect x="241.4" y="361.0" width="11.5" height="2.0" rx="1.0" fill="#000" opacity="0.25" filter="url(#b05)"/>
<rect x="257.1" y="360.8" width="11.5" height="2.4" rx="1.2" fill="#000" opacity="0.5" filter="url(#b05)"/>
<rect x="273.4" y="360.9" width="11.5" height="2.2" rx="1.1" fill="#000" opacity="0.45" filter="url(#b05)"/>
<rect x="279.0" y="365.8" width="5.0" height="1.5" rx="0.8" fill="#000" opacity="0.8" filter="url(#b05)"/>

</g>
<rect x="125.9" y="353.9" width="163.8" height="18.4" fill="none" stroke="#000" stroke-width="1.4"/>
<clipPath id="c8"><rect x="125.9" y="377.0" width="163.8" height="17.9"/></clipPath>
<rect x="125.9" y="377.0" width="163.8" height="17.9" fill="#e7e7e7"/>
<g clip-path="url(#c8)">
<rect x="131.0" y="379.2" width="12.0" height="2.0" rx="1.0" fill="#000" opacity="0.2" filter="url(#b05)"/>
<rect x="131.0" y="385.1" width="12.0" height="4.5" rx="2.2" fill="#000" opacity="1" filter="url(#b05)"/>
<rect x="147.0" y="379.5" width="12.0" height="2.0" rx="1.0" fill="#000" opacity="0.45" filter="url(#b05)"/>
<rect x="147.0" y="386.0" width="12.0" height="2.6" rx="1.3" fill="#000" opacity="0.6" filter="url(#b05)"/>
<rect x="162.0" y="379.5" width="12.0" height="2.0" rx="1.0" fill="#000" opacity="0.2" filter="url(#b05)"/>
<rect x="162.0" y="386.1" width="12.0" height="2.4" rx="1.2" fill="#000" opacity="0.35" filter="url(#b05)"/>
<rect x="177.5" y="379.5" width="12.0" height="2.0" rx="1.0" fill="#000" opacity="0.15" filter="url(#b05)"/>
<rect x="177.5" y="386.1" width="12.0" height="2.4" rx="1.2" fill="#000" opacity="0.3" filter="url(#b05)"/>
<rect x="193.3" y="379.5" width="12.0" height="2.0" rx="1.0" fill="#000" opacity="0.15" filter="url(#b05)"/>
<rect x="193.3" y="386.1" width="12.0" height="2.4" rx="1.2" fill="#000" opacity="0.3" filter="url(#b05)"/>
<rect x="209.5" y="385.6" width="12.0" height="4.5" rx="2.2" fill="#000" opacity="1" filter="url(#b05)"/>
<rect x="209.5" y="389.2" width="12.0" height="3.5" rx="1.8" fill="#000" opacity="0.45" filter="url(#b05)"/>
<rect x="225.0" y="382.6" width="12.0" height="2.2" rx="1.1" fill="#000" opacity="0.5" filter="url(#b05)"/>
<rect x="225.0" y="386.3" width="12.0" height="3.2" rx="1.6" fill="#000" opacity="0.95" filter="url(#b05)"/>
<rect x="225.0" y="389.5" width="12.0" height="3.0" rx="1.5" fill="#000" opacity="0.3" filter="url(#b05)"/>
<rect x="241.2" y="380.0" width="12.0" height="2.0" rx="1.0" fill="#000" opacity="0.2" filter="url(#b05)"/>
<rect x="241.2" y="385.0" width="12.0" height="2.0" rx="1.0" fill="#000" opacity="0.25" filter="url(#b05)"/>
<rect x="256.8" y="380.0" width="12.0" height="2.0" rx="1.0" fill="#000" opacity="0.15" filter="url(#b05)"/>
<rect x="256.8" y="385.0" width="12.0" height="2.0" rx="1.0" fill="#000" opacity="0.2" filter="url(#b05)"/>
<rect x="273.1" y="380.0" width="12.0" height="2.0" rx="1.0" fill="#000" opacity="0.15" filter="url(#b05)"/>
<rect x="273.1" y="385.0" width="12.0" height="2.0" rx="1.0" fill="#000" opacity="0.15" filter="url(#b05)"/>

</g>
<rect x="125.9" y="377.0" width="163.8" height="17.9" fill="none" stroke="#000" stroke-width="1.4"/>
<clipPath id="c9"><rect x="125.9" y="398.9" width="163.8" height="143.2"/></clipPath>
<rect x="125.9" y="398.9" width="163.8" height="143.2" fill="#fafafa"/>
<g clip-path="url(#c9)">
<linearGradient id="g9" gradientUnits="userSpaceOnUse" x1="0" y1="403" x2="0" y2="497"><stop offset="0.0000" stop-opacity="0"/><stop offset="0.0266" stop-opacity="0.6"/><stop offset="0.0638" stop-opacity="0.95"/><stop offset="0.4894" stop-opacity="1"/><stop offset="0.5213" stop-opacity="0.85"/><stop offset="0.5638" stop-opacity="0.75"/><stop offset="0.6064" stop-opacity="0.78"/><stop offset="0.6436" stop-opacity="0.82"/><stop offset="0.6702" stop-opacity="0.65"/><stop offset="0.7128" stop-opacity="0.55"/><stop offset="0.7766" stop-opacity="0.45"/><stop offset="0.8404" stop-opacity="0.38"/><stop offset="0.9149" stop-opacity="0.36"/><stop offset="0.9532" stop-opacity="0.66"/><stop offset="0.9787" stop-opacity="0.2"/><stop offset="1.0000" stop-opacity="0"/></linearGradient><rect x="148.8" y="403.0" width="11.2" height="94.0" rx="1.5" fill="url(#g9)" filter="url(#b12)"/><ellipse cx="154.4" cy="413.0" rx="2.6" ry="7" fill="#fff" opacity="0.45" filter="url(#b20)"/><linearGradient id="g10" gradientUnits="userSpaceOnUse" x1="0" y1="404" x2="0" y2="497"><stop offset="0.0000" stop-opacity="0"/><stop offset="0.0269" stop-opacity="0.7"/><stop offset="0.0538" stop-opacity="0.95"/><stop offset="0.3656" stop-opacity="1"/><stop offset="0.3925" stop-opacity="0.6"/><stop offset="0.4516" stop-opacity="0.5"/><stop offset="0.5161" stop-opacity="0.45"/><stop offset="0.5806" stop-opacity="0.45"/><stop offset="0.6398" stop-opacity="0.6"/><stop offset="0.6667" stop-opacity="0.45"/><stop offset="0.7527" stop-opacity="0.4"/><stop offset="0.8387" stop-opacity="0.3"/><stop offset="0.9247" stop-opacity="0.28"/><stop offset="0.9527" stop-opacity="0.45"/><stop offset="0.9785" stop-opacity="0.12"/><stop offset="1.0000" stop-opacity="0"/></linearGradient><rect x="162.6" y="404.0" width="12.2" height="93.0" rx="1.5" fill="url(#g10)" filter="url(#b12)"/><ellipse cx="168.6" cy="418.0" rx="3.2" ry="6.5" fill="#fff" opacity="0.5" filter="url(#b20)"/><linearGradient id="g11" gradientUnits="userSpaceOnUse" x1="0" y1="403.5" x2="0" y2="497"><stop offset="0.0000" stop-opacity="0"/><stop offset="0.0267" stop-opacity="0.75"/><stop offset="0.0481" stop-opacity="1"/><stop offset="0.3583" stop-opacity="1"/><stop offset="0.3797" stop-opacity="0.6"/><stop offset="0.4064" stop-opacity="0.7"/><stop offset="0.4332" stop-opacity="0.55"/><stop offset="0.4759" stop-opacity="0.45"/><stop offset="0.5508" stop-opacity="0.42"/><stop offset="0.6043" stop-opacity="0.5"/><stop offset="0.6417" stop-opacity="0.75"/><stop offset="0.6684" stop-opacity="0.55"/><stop offset="0.7112" stop-opacity="0.45"/><stop offset="0.8182" stop-opacity="0.36"/><stop offset="0.9144" stop-opacity="0.32"/><stop offset="0.9529" stop-opacity="0.55"/><stop offset="0.9786" stop-opacity="0.15"/><stop offset="1.0000" stop-opacity="0"/></linearGradient><rect x="177.9" y="403.5" width="12.7" height="93.5" rx="1.5" fill="url(#g11)" filter="url(#b12)"/><linearGradient id="g12" gradientUnits="userSpaceOnUse" x1="0" y1="405" x2="0" y2="497"><stop offset="0.0000" stop-opacity="0"/><stop offset="0.0272" stop-opacity="0.8"/><stop offset="0.0543" stop-opacity="1"/><stop offset="0.0978" stop-opacity="0.95"/><stop offset="0.1413" stop-opacity="0.7"/><stop offset="0.2065" stop-opacity="0.6"/><stop offset="0.2391" stop-opacity="0.6"/><stop offset="0.2685" stop-opacity="0.82"/><stop offset="0.2935" stop-opacity="0.58"/><stop offset="0.3370" stop-opacity="0.55"/><stop offset="0.4011" stop-opacity="0.75"/><stop offset="0.4239" stop-opacity="0.5"/><stop offset="0.4891" stop-opacity="0.4"/><stop offset="0.5978" stop-opacity="0.38"/><stop offset="0.6359" stop-opacity="0.45"/><stop offset="0.6630" stop-opacity="0.28"/><stop offset="0.8152" stop-opacity="0.24"/><stop offset="0.9130" stop-opacity="0.2"/><stop offset="0.9522" stop-opacity="0.25"/><stop offset="0.9783" stop-opacity="0.05"/><stop offset="1.0000" stop-opacity="0"/></linearGradient><rect x="193.2" y="405.0" width="12.6" height="92.0" rx="1.5" fill="url(#g12)" filter="url(#b12)"/><ellipse cx="199.5" cy="419.0" rx="3" ry="4.5" fill="#fff" opacity="0.4" filter="url(#b20)"/><ellipse cx="184.0" cy="421.0" rx="2" ry="2.5" fill="#fff" opacity="0.18" filter="url(#b12)"/><linearGradient id="g13" gradientUnits="userSpaceOnUse" x1="0" y1="404" x2="0" y2="485"><stop offset="0.0000" stop-opacity="0"/><stop offset="0.0370" stop-opacity="0.1"/><stop offset="0.1975" stop-opacity="0.14"/><stop offset="0.2716" stop-opacity="0.2"/><stop offset="0.3333" stop-opacity="0.28"/><stop offset="0.4074" stop-opacity="0.25"/><stop offset="0.4568" stop-opacity="0.18"/><stop offset="0.5679" stop-opacity="0.12"/><stop offset="0.6914" stop-opacity="0.12"/><stop offset="0.7160" stop-opacity="0.18"/><stop offset="0.7531" stop-opacity="0.08"/><stop offset="0.9383" stop-opacity="0.05"/><stop offset="1.0000" stop-opacity="0"/></linearGradient><rect x="224.9" y="404.0" width="10.5" height="81.0" rx="1.5" fill="url(#g13)" filter="url(#b08)"/><linearGradient id="g14" gradientUnits="userSpaceOnUse" x1="0" y1="404" x2="0" y2="485"><stop offset="0.0000" stop-opacity="0"/><stop offset="0.0370" stop-opacity="0.15"/><stop offset="0.1975" stop-opacity="0.2"/><stop offset="0.2716" stop-opacity="0.35"/><stop offset="0.3580" stop-opacity="0.46"/><stop offset="0.4198" stop-opacity="0.4"/><stop offset="0.4469" stop-opacity="0.42"/><stop offset="0.4815" stop-opacity="0.22"/><stop offset="0.6296" stop-opacity="0.18"/><stop offset="0.6728" stop-opacity="0.25"/><stop offset="0.7160" stop-opacity="0.24"/><stop offset="0.7654" stop-opacity="0.17"/><stop offset="0.8148" stop-opacity="0.14"/><stop offset="0.9383" stop-opacity="0.1"/><stop offset="1.0000" stop-opacity="0"/></linearGradient><rect x="239.1" y="404.0" width="11.6" height="81.0" rx="1.5" fill="url(#g14)" filter="url(#b08)"/><linearGradient id="g15" gradientUnits="userSpaceOnUse" x1="0" y1="404" x2="0" y2="485"><stop offset="0.0000" stop-opacity="0"/><stop offset="0.0370" stop-opacity="0.25"/><stop offset="0.1210" stop-opacity="0.35"/><stop offset="0.1728" stop-opacity="0.3"/><stop offset="0.1975" stop-opacity="0.18"/><stop offset="0.2716" stop-opacity="0.2"/><stop offset="0.3210" stop-opacity="0.38"/><stop offset="0.3951" stop-opacity="0.4"/><stop offset="0.4568" stop-opacity="0.46"/><stop offset="0.4938" stop-opacity="0.4"/><stop offset="0.5185" stop-opacity="0.18"/><stop offset="0.6296" stop-opacity="0.17"/><stop offset="0.6481" stop-opacity="0.25"/><stop offset="0.6790" stop-opacity="0.15"/><stop offset="0.7840" stop-opacity="0.25"/><stop offset="0.8148" stop-opacity="0.12"/><stop offset="0.9383" stop-opacity="0.08"/><stop offset="1.0000" stop-opacity="0"/></linearGradient><rect x="254.4" y="404.0" width="11.1" height="81.0" rx="1.5" fill="url(#g15)" filter="url(#b08)"/><linearGradient id="g16" gradientUnits="userSpaceOnUse" x1="0" y1="404" x2="0" y2="485"><stop offset="0.0000" stop-opacity="0"/><stop offset="0.0370" stop-opacity="0.22"/><stop offset="0.1111" stop-opacity="0.25"/><stop offset="0.1728" stop-opacity="0.22"/><stop offset="0.1975" stop-opacity="0.12"/><stop offset="0.2716" stop-opacity="0.14"/><stop offset="0.3210" stop-opacity="0.25"/><stop offset="0.4074" stop-opacity="0.25"/><stop offset="0.4506" stop-opacity="0.32"/><stop offset="0.4815" stop-opacity="0.15"/><stop offset="0.6296" stop-opacity="0.12"/><stop offset="0.6481" stop-opacity="0.18"/><stop offset="0.6790" stop-opacity="0.1"/><stop offset="0.7778" stop-opacity="0.18"/><stop offset="0.8148" stop-opacity="0.08"/><stop offset="0.9383" stop-opacity="0.05"/><stop offset="1.0000" stop-opacity="0"/></linearGradient><rect x="269.7" y="404.0" width="12.2" height="81.0" rx="1.5" fill="url(#g16)" filter="url(#b08)"/><rect x="149.7" y="497.3" width="4.8" height="1.7" fill="#000" opacity="0.7" filter="url(#b05)"/><rect x="239.0" y="491.0" width="11.7" height="2.0" fill="#000" opacity="0.15" filter="url(#b05)"/><rect x="254.4" y="491.0" width="11.1" height="2.0" fill="#000" opacity="0.2" filter="url(#b05)"/><rect x="269.7" y="491.0" width="12.2" height="2.0" fill="#000" opacity="0.2" filter="url(#b05)"/><rect x="272.9" y="496.0" width="12.7" height="1.8" fill="#000" opacity="0.75" filter="url(#b05)"/><rect x="238.0" y="495.8" width="5.0" height="1.4" fill="#000" opacity="0.35" filter="url(#b05)"/>
</g>
<rect x="125.9" y="398.9" width="163.8" height="143.2" fill="none" stroke="#000" stroke-width="1.4"/>
<clipPath id="c10"><rect x="125.9" y="546.7" width="163.8" height="18.3"/></clipPath>
<rect x="125.9" y="546.7" width="163.8" height="18.3" fill="#d8d8d8"/>
<g clip-path="url(#c10)">
<rect x="131.0" y="546.7" width="12" height="18.3" fill="#000" opacity="0.03" filter="url(#b12)"/>
<rect x="147.0" y="546.7" width="12" height="18.3" fill="#000" opacity="0.03" filter="url(#b12)"/>
<rect x="162.0" y="546.7" width="12" height="18.3" fill="#000" opacity="0.03" filter="url(#b12)"/>
<rect x="177.5" y="546.7" width="12" height="18.3" fill="#000" opacity="0.03" filter="url(#b12)"/>
<rect x="193.3" y="546.7" width="12" height="18.3" fill="#000" opacity="0.03" filter="url(#b12)"/>
<rect x="209.5" y="546.7" width="12" height="18.3" fill="#000" opacity="0.03" filter="url(#b12)"/>
<rect x="225.0" y="546.7" width="12" height="18.3" fill="#000" opacity="0.03" filter="url(#b12)"/>
<rect x="241.2" y="546.7" width="12" height="18.3" fill="#000" opacity="0.03" filter="url(#b12)"/>
<rect x="256.8" y="546.7" width="12" height="18.3" fill="#000" opacity="0.03" filter="url(#b12)"/>
<rect x="273.1" y="546.7" width="12" height="18.3" fill="#000" opacity="0.03" filter="url(#b12)"/>
<rect x="130.5" y="550.8" width="13.0" height="3.0" rx="1.5" fill="#000" opacity="0.75" filter="url(#b08)"/>
<rect x="130.5" y="555.7" width="13.0" height="3.8" rx="1.9" fill="#000" opacity="1" filter="url(#b08)"/>
<rect x="147.0" y="556.1" width="12.0" height="3.4" rx="1.7" fill="#000" opacity="1" filter="url(#b05)"/>
<rect x="146.5" y="555.0" width="13.0" height="5.5" rx="2.8" fill="#000" opacity="0.3" filter="url(#b08)"/>
<rect x="162.0" y="556.1" width="12.0" height="3.4" rx="1.7" fill="#000" opacity="0.95" filter="url(#b05)"/>
<rect x="161.5" y="555.0" width="13.0" height="5.5" rx="2.8" fill="#000" opacity="0.285" filter="url(#b08)"/>
<rect x="177.5" y="556.1" width="12.0" height="3.4" rx="1.7" fill="#000" opacity="1" filter="url(#b05)"/>
<rect x="177.0" y="555.0" width="13.0" height="5.5" rx="2.8" fill="#000" opacity="0.3" filter="url(#b08)"/>
<rect x="193.3" y="556.1" width="12.0" height="3.4" rx="1.7" fill="#000" opacity="0.95" filter="url(#b05)"/>
<rect x="192.8" y="555.0" width="13.0" height="5.5" rx="2.8" fill="#000" opacity="0.285" filter="url(#b08)"/>
<rect x="209.0" y="550.8" width="13.0" height="3.0" rx="1.5" fill="#000" opacity="0.95" filter="url(#b08)"/>
<rect x="209.0" y="555.7" width="13.0" height="3.8" rx="1.9" fill="#000" opacity="1" filter="url(#b08)"/>
<rect x="225.0" y="556.1" width="12.0" height="3.4" rx="1.7" fill="#000" opacity="1" filter="url(#b05)"/>
<rect x="224.5" y="555.0" width="13.0" height="5.5" rx="2.8" fill="#000" opacity="0.3" filter="url(#b08)"/>
<rect x="241.2" y="556.1" width="12.0" height="3.4" rx="1.7" fill="#000" opacity="0.95" filter="url(#b05)"/>
<rect x="240.7" y="555.0" width="13.0" height="5.5" rx="2.8" fill="#000" opacity="0.285" filter="url(#b08)"/>
<rect x="256.8" y="556.1" width="12.0" height="3.4" rx="1.7" fill="#000" opacity="1" filter="url(#b05)"/>
<rect x="256.3" y="555.0" width="13.0" height="5.5" rx="2.8" fill="#000" opacity="0.3" filter="url(#b08)"/>
<rect x="273.1" y="556.1" width="12.0" height="3.4" rx="1.7" fill="#000" opacity="0.85" filter="url(#b05)"/>
<rect x="272.6" y="555.0" width="13.0" height="5.5" rx="2.8" fill="#000" opacity="0.255" filter="url(#b08)"/>

</g>
<rect x="125.9" y="546.7" width="163.8" height="18.3" fill="none" stroke="#000" stroke-width="1.4"/>
<clipPath id="c11"><rect x="125.9" y="569.3" width="163.8" height="18.4"/></clipPath>
<rect x="125.9" y="569.3" width="163.8" height="18.4" fill="#dadada"/>
<g clip-path="url(#c11)">
<rect x="130.2" y="576.5" width="13.5" height="3.4" rx="1.7" fill="#000" opacity="1" filter="url(#b05)"/>
<rect x="208.8" y="576.2" width="13.5" height="3.4" rx="1.7" fill="#000" opacity="1" filter="url(#b05)"/>
<rect x="147.0" y="577.4" width="12.0" height="2.0" rx="1.0" fill="#000" opacity="0.2" filter="url(#b05)"/>
<rect x="162.0" y="577.4" width="12.0" height="2.0" rx="1.0" fill="#000" opacity="0.2" filter="url(#b05)"/>
<rect x="177.5" y="577.4" width="12.0" height="2.0" rx="1.0" fill="#000" opacity="0.2" filter="url(#b05)"/>
<rect x="193.3" y="577.4" width="12.0" height="2.0" rx="1.0" fill="#000" opacity="0.2" filter="url(#b05)"/>
<rect x="225.0" y="577.4" width="12.0" height="2.0" rx="1.0" fill="#000" opacity="0.2" filter="url(#b05)"/>
<rect x="241.2" y="577.4" width="12.0" height="2.0" rx="1.0" fill="#000" opacity="0.2" filter="url(#b05)"/>
<rect x="256.8" y="577.4" width="12.0" height="2.0" rx="1.0" fill="#000" opacity="0.2" filter="url(#b05)"/>
<rect x="273.1" y="577.4" width="12.0" height="2.0" rx="1.0" fill="#000" opacity="0.2" filter="url(#b05)"/>

</g>
<rect x="125.9" y="569.3" width="163.8" height="18.4" fill="none" stroke="#000" stroke-width="1.4"/>
<clipPath id="c12"><rect x="125.9" y="592.7" width="163.8" height="18.1"/></clipPath>
<rect x="125.9" y="592.7" width="163.8" height="18.1" fill="#f6f6f6"/>
<g clip-path="url(#c12)">
<rect x="130.2" y="599.6" width="13.5" height="3.0" rx="1.5" fill="#000" opacity="1" filter="url(#b05)"/>
<rect x="146.2" y="599.6" width="13.5" height="3.0" rx="1.5" fill="#000" opacity="1" filter="url(#b05)"/>
<rect x="161.2" y="599.6" width="13.5" height="3.0" rx="1.5" fill="#000" opacity="1" filter="url(#b05)"/>
<rect x="176.8" y="599.6" width="13.5" height="3.0" rx="1.5" fill="#000" opacity="1" filter="url(#b05)"/>
<rect x="192.6" y="599.6" width="13.5" height="3.0" rx="1.5" fill="#000" opacity="1" filter="url(#b05)"/>
<rect x="208.8" y="599.6" width="13.5" height="3.0" rx="1.5" fill="#000" opacity="1" filter="url(#b05)"/>
<rect x="224.2" y="599.6" width="13.5" height="3.0" rx="1.5" fill="#000" opacity="1" filter="url(#b05)"/>
<rect x="240.4" y="599.6" width="13.5" height="3.0" rx="1.5" fill="#000" opacity="1" filter="url(#b05)"/>
<rect x="256.1" y="600.3" width="13.5" height="3.0" rx="1.5" fill="#000" opacity="1" filter="url(#b05)"/>
<rect x="272.4" y="600.3" width="13.5" height="3.0" rx="1.5" fill="#000" opacity="1" filter="url(#b05)"/>

</g>
<rect x="125.9" y="592.7" width="163.8" height="18.1" fill="none" stroke="#000" stroke-width="1.4"/>
<line x1="0.0" y1="671.9" x2="246.9" y2="671.9" stroke="#000" stroke-width="1.6" />
<text x="14.3" y="687.3" font-size="8.6" text-anchor="middle" fill="#3a9ad0" stroke="#3a9ad0" >Rank</text>
<text x="56.2" y="687.3" font-size="8.6" text-anchor="middle" fill="#3a9ad0" stroke="#3a9ad0" >Motif</text>
<text x="107.6" y="687.3" font-size="8.6" text-anchor="middle" fill="#3a9ad0" stroke="#3a9ad0" >orientation</text>
<text x="160.8" y="687.3" font-size="8.6" text-anchor="middle" fill="#3a9ad0" stroke="#3a9ad0" >FDR</text>
<text x="222.6" y="687.3" font-size="8.6" text-anchor="middle" fill="#3a9ad0" stroke="#3a9ad0" >ZScore</text>
<text x="158" y="700.2" font-size="8.6" text-anchor="middle" fill="#3a9ad0">(<tspan font-style="italic">p</tspan>&lt;0.05)</text>
<rect x="0.0" y="704.3" width="246.9" height="13.8" fill="#f0f0f0" />
<rect x="0.0" y="731.9" width="246.9" height="13.8" fill="#f0f0f0" />
<rect x="0.0" y="759.5" width="246.9" height="13.8" fill="#f0f0f0" />
<rect x="0.0" y="787.1" width="246.9" height="13.8" fill="#f0f0f0" />
<rect x="0.0" y="814.7" width="246.9" height="13.8" fill="#f0f0f0" />
<rect x="0.0" y="842.3" width="246.9" height="13.8" fill="#f0f0f0" />
<text x="16.6" y="714.5" font-size="9.6" text-anchor="end" fill="#111" stroke="#111" >0</text>
<text x="36.4" y="714.5" font-size="9.6" font-weight="normal" fill="#111" stroke="#111" >MEIS1</text>
<text x="108.0" y="714.5" font-size="9.6" text-anchor="end" font-weight="normal" fill="#111" stroke="#111" >-1</text>
<text x="140.9" y="714.5" font-size="9.6" font-weight="normal" fill="#111" stroke="#111" >0.205621</text>
<text x="240.7" y="714.5" font-size="9.6" text-anchor="end" font-weight="normal" fill="#111" stroke="#111" >4.3503</text>
<text x="16.6" y="728.3" font-size="9.6" text-anchor="end" fill="#111" stroke="#111" >1</text>
<text x="36.4" y="728.3" font-size="9.6" font-weight="normal" fill="#111" stroke="#111" >AP-2rep</text>
<text x="108.0" y="728.3" font-size="9.6" text-anchor="end" font-weight="normal" fill="#111" stroke="#111" >-1</text>
<text x="155.5" y="728.3" font-size="9.6" text-anchor="middle" font-weight="normal" fill="#111" stroke="#111" >0</text>
<text x="240.7" y="728.3" font-size="9.6" text-anchor="end" font-weight="normal" fill="#111" stroke="#111" >4.058628</text>
<text x="16.6" y="742.1" font-size="9.6" text-anchor="end" fill="#111" stroke="#111" >2</text>
<text x="36.4" y="742.1" font-size="9.6" fill="#111" stroke="#111" >STAT5A</text>
<text x="108.0" y="742.1" font-size="9.6" text-anchor="end" fill="#111" stroke="#111" >1</text>
<text x="155.5" y="742.1" font-size="9.6" text-anchor="middle" fill="#111" stroke="#111" >1</text>
<text x="240.7" y="742.1" font-size="9.6" text-anchor="end" fill="#111" stroke="#111" >3.343771</text>
<text x="16.6" y="755.9" font-size="9.6" text-anchor="end" fill="#111" stroke="#111" >3</text>
<text x="36.4" y="755.9" font-size="9.6" font-weight="normal" fill="#111" stroke="#111" >DBP</text>
<text x="108.0" y="755.9" font-size="9.6" text-anchor="end" font-weight="normal" fill="#111" stroke="#111" >-1</text>
<text x="140.9" y="755.9" font-size="9.6" font-weight="normal" fill="#111" stroke="#111" >0.877844</text>
<text x="240.7" y="755.9" font-size="9.6" text-anchor="end" font-weight="normal" fill="#111" stroke="#111" >3.709385</text>
<text x="16.6" y="769.7" font-size="9.6" text-anchor="end" fill="#111" stroke="#111" >4</text>
<text x="36.4" y="769.7" font-size="9.6" font-weight="normal" fill="#111" stroke="#111" >PU.1</text>
<text x="108.0" y="769.7" font-size="9.6" text-anchor="end" font-weight="normal" fill="#111" stroke="#111" >-1</text>
<text x="140.9" y="769.7" font-size="9.6" font-weight="normal" fill="#111" stroke="#111" >0.111299</text>
<text x="240.7" y="769.7" font-size="9.6" text-anchor="end" font-weight="normal" fill="#111" stroke="#111" >4.021672</text>
<text x="16.6" y="783.5" font-size="9.6" text-anchor="end" fill="#111" stroke="#111" >5</text>
<text x="36.4" y="783.5" font-size="9.6" fill="#f0121a" stroke="#f0121a" >SMAD3</text>
<text x="108.0" y="783.5" font-size="9.6" text-anchor="end" fill="#f0121a" stroke="#f0121a" >1</text>
<text x="155.5" y="783.5" font-size="9.6" text-anchor="middle" fill="#f0121a" stroke="#f0121a" >0</text>
<text x="240.7" y="783.5" font-size="9.6" text-anchor="end" fill="#f0121a" stroke="#f0121a" >4.39842</text>
<text x="16.6" y="797.3" font-size="9.6" text-anchor="end" fill="#111" stroke="#111" >6</text>
<text x="36.4" y="797.3" font-size="9.6" fill="#111" stroke="#111" >TEF-1</text>
<text x="108.0" y="797.3" font-size="9.6" text-anchor="end" fill="#111" stroke="#111" >1</text>
<text x="155.5" y="797.3" font-size="9.6" text-anchor="middle" fill="#111" stroke="#111" >0</text>
<text x="240.7" y="797.3" font-size="9.6" text-anchor="end" fill="#111" stroke="#111" >3.662927</text>
<text x="16.6" y="811.1" font-size="9.6" text-anchor="end" fill="#111" stroke="#111" >7</text>
<text x="36.4" y="811.1" font-size="9.6" font-weight="normal" fill="#111" stroke="#111" >TEF-1</text>
<text x="108.0" y="811.1" font-size="9.6" text-anchor="end" font-weight="normal" fill="#111" stroke="#111" >1</text>
<text x="155.5" y="811.1" font-size="9.6" text-anchor="middle" font-weight="normal" fill="#111" stroke="#111" >0</text>
<text x="240.7" y="811.1" font-size="9.6" text-anchor="end" font-weight="normal" fill="#111" stroke="#111" >3.662927</text>
<text x="16.6" y="824.9" font-size="9.6" text-anchor="end" fill="#111" stroke="#111" >8</text>
<text x="36.4" y="824.9" font-size="9.6" font-weight="normal" fill="#111" stroke="#111" >TEF-1</text>
<text x="108.0" y="824.9" font-size="9.6" text-anchor="end" font-weight="normal" fill="#111" stroke="#111" >1</text>
<text x="155.5" y="824.9" font-size="9.6" text-anchor="middle" font-weight="normal" fill="#111" stroke="#111" >0</text>
<text x="240.7" y="824.9" font-size="9.6" text-anchor="end" font-weight="normal" fill="#111" stroke="#111" >3.662927</text>
<text x="16.6" y="838.7" font-size="9.6" text-anchor="end" fill="#111" stroke="#111" >9</text>
<text x="36.4" y="838.7" font-size="9.6" font-weight="normal" fill="#111" stroke="#111" >TEF-1</text>
<text x="108.0" y="838.7" font-size="9.6" text-anchor="end" font-weight="normal" fill="#111" stroke="#111" >1</text>
<text x="155.5" y="838.7" font-size="9.6" text-anchor="middle" font-weight="normal" fill="#111" stroke="#111" >0</text>
<text x="240.7" y="838.7" font-size="9.6" text-anchor="end" font-weight="normal" fill="#111" stroke="#111" >3.662927</text>
<text x="16.6" y="852.5" font-size="9.6" text-anchor="end" fill="#111" stroke="#111" >10</text>
<text x="36.4" y="852.5" font-size="9.6" font-weight="normal" fill="#111" stroke="#111" >TEF-1</text>
<text x="108.0" y="852.5" font-size="9.6" text-anchor="end" font-weight="normal" fill="#111" stroke="#111" >-1</text>
<text x="155.5" y="852.5" font-size="9.6" text-anchor="middle" font-weight="normal" fill="#111" stroke="#111" >0</text>
<text x="240.7" y="852.5" font-size="9.6" text-anchor="end" font-weight="normal" fill="#111" stroke="#111" >3.662927</text>
<text x="16.6" y="866.3" font-size="9.6" text-anchor="end" fill="#111" stroke="#111" >11</text>
<text x="36.4" y="866.3" font-size="9.6" fill="#111" stroke="#111" >TEF-1</text>
<text x="108.0" y="866.3" font-size="9.6" text-anchor="end" fill="#111" stroke="#111" >1</text>
<text x="155.5" y="866.3" font-size="9.6" text-anchor="middle" fill="#111" stroke="#111" >0</text>
<text x="240.7" y="866.3" font-size="9.6" text-anchor="end" font-weight="normal" fill="#111" stroke="#111" >3.662927</text>
<line x1="0.0" y1="704.2" x2="246.9" y2="704.2" stroke="#000" stroke-width="1.6" />
<line x1="0.0" y1="872.8" x2="246.9" y2="872.8" stroke="#000" stroke-width="1.6" />
<line x1="292.0" y1="655.8" x2="292.0" y2="761.3" stroke="#333" stroke-width="1.2" />
<line x1="291.4" y1="760.7" x2="449.5" y2="760.7" stroke="#333" stroke-width="1.2" />
<line x1="289.4" y1="655.8" x2="292.0" y2="655.8" stroke="#333" stroke-width="1.1" />
<text x="287.6" y="658.9" font-size="8.4" text-anchor="end" >8.0</text>
<line x1="289.4" y1="673.3" x2="292.0" y2="673.3" stroke="#333" stroke-width="1.1" />
<text x="287.6" y="676.4" font-size="8.4" text-anchor="end" >7.8</text>
<line x1="289.4" y1="690.8" x2="292.0" y2="690.8" stroke="#333" stroke-width="1.1" />
<text x="287.6" y="693.9" font-size="8.4" text-anchor="end" >7.6</text>
<line x1="289.4" y1="708.3" x2="292.0" y2="708.3" stroke="#333" stroke-width="1.1" />
<text x="287.6" y="711.4" font-size="8.4" text-anchor="end" >7.4</text>
<line x1="289.4" y1="725.8" x2="292.0" y2="725.8" stroke="#333" stroke-width="1.1" />
<text x="287.6" y="728.9" font-size="8.4" text-anchor="end" >7.2</text>
<line x1="289.4" y1="743.3" x2="292.0" y2="743.3" stroke="#333" stroke-width="1.1" />
<text x="287.6" y="746.4" font-size="8.4" text-anchor="end" >7.0</text>
<line x1="289.4" y1="760.8" x2="292.0" y2="760.8" stroke="#333" stroke-width="1.1" />
<text x="287.6" y="763.9" font-size="8.4" text-anchor="end" >6.8</text>
<line x1="291.8" y1="760.7" x2="291.8" y2="763.7" stroke="#333" stroke-width="1.1" />
<text x="291.8" y="774.2" font-size="8.4" text-anchor="middle" >4.0</text>
<line x1="331.2" y1="760.7" x2="331.2" y2="763.7" stroke="#333" stroke-width="1.1" />
<text x="331.2" y="774.2" font-size="8.4" text-anchor="middle" >4.5</text>
<line x1="370.6" y1="760.7" x2="370.6" y2="763.7" stroke="#333" stroke-width="1.1" />
<text x="370.6" y="774.2" font-size="8.4" text-anchor="middle" >5.0</text>
<line x1="410.0" y1="760.7" x2="410.0" y2="763.7" stroke="#333" stroke-width="1.1" />
<text x="410.0" y="774.2" font-size="8.4" text-anchor="middle" >5.5</text>
<line x1="449.4" y1="760.7" x2="449.4" y2="763.7" stroke="#333" stroke-width="1.1" />
<text x="449.4" y="774.2" font-size="8.4" text-anchor="middle" >6.0</text>
<circle cx="307.6" cy="706.0" r="2.2" fill="#000"/>
<circle cx="343.1" cy="673.1" r="2.2" fill="#000"/>
<circle cx="344.9" cy="714.4" r="2.2" fill="#000"/>
<circle cx="347.0" cy="722.8" r="2.2" fill="#000"/>
<circle cx="355.7" cy="692.6" r="2.2" fill="#000"/>
<circle cx="375.4" cy="681.0" r="2.2" fill="#000"/>
<circle cx="375.9" cy="725.7" r="2.2" fill="#000"/>
<circle cx="375.1" cy="740.9" r="2.2" fill="#000"/>
<circle cx="380.4" cy="710.4" r="2.2" fill="#000"/>
<circle cx="383.8" cy="693.1" r="2.2" fill="#000"/>
<circle cx="384.6" cy="669.7" r="2.2" fill="#000"/>
<circle cx="385.1" cy="720.4" r="2.2" fill="#000"/>
<circle cx="386.9" cy="713.6" r="2.2" fill="#000"/>
<circle cx="388.5" cy="674.4" r="2.2" fill="#000"/>
<circle cx="390.9" cy="723.8" r="2.2" fill="#000"/>
<circle cx="393.5" cy="679.4" r="2.2" fill="#000"/>
<circle cx="394.8" cy="687.3" r="2.2" fill="#000"/>
<circle cx="398.8" cy="703.1" r="2.2" fill="#000"/>
<circle cx="399.5" cy="680.2" r="2.2" fill="#000"/>
<circle cx="399.5" cy="683.4" r="2.2" fill="#000"/>
<circle cx="401.4" cy="666.8" r="2.2" fill="#000"/>
<circle cx="401.1" cy="727.0" r="2.2" fill="#000"/>
<circle cx="403.5" cy="686.3" r="2.2" fill="#000"/>
<circle cx="406.6" cy="687.3" r="2.2" fill="#000"/>
<circle cx="406.6" cy="712.8" r="2.2" fill="#000"/>
<circle cx="408.2" cy="666.0" r="2.2" fill="#000"/>
<circle cx="409.3" cy="688.6" r="2.2" fill="#000"/>
<circle cx="411.1" cy="689.4" r="2.2" fill="#000"/>
<circle cx="419.8" cy="686.8" r="2.2" fill="#000"/>
<circle cx="420.6" cy="684.9" r="2.2" fill="#000"/>
<circle cx="429.8" cy="672.9" r="2.2" fill="#000"/>
<line x1="307.6" y1="716.2" x2="429.8" y2="685.0" stroke="#000" stroke-width="1.2" />
<text x="302.3" y="641.9" font-size="10.25" fill="#111" stroke="#111" >GSE118553 (Temporal_Cortex)</text>
<text transform="translate(272.1,708.0) rotate(-90)" font-size="8.2" text-anchor="middle">PINK1</text>
<text x="440.3" y="685.8" font-size="8.6"><tspan font-style="italic">p</tspan>=0.0747</text>
<line x1="505.2" y1="656.1" x2="505.2" y2="761.2" stroke="#333" stroke-width="1.2" />
<line x1="504.6" y1="760.6" x2="662.1" y2="760.6" stroke="#333" stroke-width="1.2" />
<line x1="502.6" y1="656.1" x2="505.2" y2="656.1" stroke="#333" stroke-width="1.1" />
<text x="500.8" y="659.2" font-size="8.4" text-anchor="end" >8.5</text>
<line x1="502.6" y1="690.9" x2="505.2" y2="690.9" stroke="#333" stroke-width="1.1" />
<text x="500.8" y="694.0" font-size="8.4" text-anchor="end" >8.0</text>
<line x1="502.6" y1="725.8" x2="505.2" y2="725.8" stroke="#333" stroke-width="1.1" />
<text x="500.8" y="728.9" font-size="8.4" text-anchor="end" >7.5</text>
<line x1="502.6" y1="760.6" x2="505.2" y2="760.6" stroke="#333" stroke-width="1.1" />
<text x="500.8" y="763.7" font-size="8.4" text-anchor="end" >7.0</text>
<line x1="505.2" y1="760.6" x2="505.2" y2="763.6" stroke="#333" stroke-width="1.1" />
<text x="505.2" y="774.0" font-size="8.4" text-anchor="middle" >4.5</text>
<line x1="544.4" y1="760.6" x2="544.4" y2="763.6" stroke="#333" stroke-width="1.1" />
<text x="544.4" y="774.0" font-size="8.4" text-anchor="middle" >5.0</text>
<line x1="583.6" y1="760.6" x2="583.6" y2="763.6" stroke="#333" stroke-width="1.1" />
<text x="583.6" y="774.0" font-size="8.4" text-anchor="middle" >5.5</text>
<line x1="622.9" y1="760.6" x2="622.9" y2="763.6" stroke="#333" stroke-width="1.1" />
<text x="622.9" y="774.0" font-size="8.4" text-anchor="middle" >6.0</text>
<line x1="662.1" y1="760.6" x2="662.1" y2="763.6" stroke="#333" stroke-width="1.1" />
<text x="662.1" y="774.0" font-size="8.4" text-anchor="middle" >6.5</text>
<circle cx="539.1" cy="688.1" r="2.2" fill="#000"/>
<circle cx="538.4" cy="738.3" r="2.2" fill="#000"/>
<circle cx="552.2" cy="718.9" r="2.2" fill="#000"/>
<circle cx="555.4" cy="717.9" r="2.2" fill="#000"/>
<circle cx="556.9" cy="714.2" r="2.2" fill="#000"/>
<circle cx="563.2" cy="704.7" r="2.2" fill="#000"/>
<circle cx="565.1" cy="739.9" r="2.2" fill="#000"/>
<circle cx="568.9" cy="713.5" r="2.2" fill="#000"/>
<circle cx="573.6" cy="714.8" r="2.2" fill="#000"/>
<circle cx="576.7" cy="679.6" r="2.2" fill="#000"/>
<circle cx="582.4" cy="685.9" r="2.2" fill="#000"/>
<circle cx="583.9" cy="702.2" r="2.2" fill="#000"/>
<circle cx="587.7" cy="686.5" r="2.2" fill="#000"/>
<circle cx="590.2" cy="703.2" r="2.2" fill="#000"/>
<circle cx="591.5" cy="705.4" r="2.2" fill="#000"/>
<circle cx="596.5" cy="679.6" r="2.2" fill="#000"/>
<circle cx="596.8" cy="703.5" r="2.2" fill="#000"/>
<circle cx="597.7" cy="669.3" r="2.2" fill="#000"/>
<circle cx="598.7" cy="689.7" r="2.2" fill="#000"/>
<circle cx="605.0" cy="693.1" r="2.2" fill="#000"/>
<circle cx="606.2" cy="675.6" r="2.2" fill="#000"/>
<circle cx="619.4" cy="721.1" r="2.2" fill="#000"/>
<circle cx="623.2" cy="693.8" r="2.2" fill="#000"/>
<line x1="539.1" y1="718.2" x2="623.2" y2="685.9" stroke="#000" stroke-width="1.2" />
<text x="518.6" y="642.0" font-size="10.4" fill="#111" stroke="#111" >GSE118553 (Frontal_Cortex)</text>
<text transform="translate(484.1,710.0) rotate(-90)" font-size="8.2" text-anchor="middle">PINK1</text>
<text x="633.8" y="685.0" font-size="8.6"><tspan font-style="italic">p</tspan>=0.0237</text>
<line x1="293.0" y1="841.3" x2="293.0" y2="942.3" stroke="#333" stroke-width="1.2" />
<line x1="292.4" y1="941.7" x2="444.2" y2="941.7" stroke="#333" stroke-width="1.2" />
<line x1="290.4" y1="841.3" x2="293.0" y2="841.3" stroke="#333" stroke-width="1.1" />
<text x="288.3" y="844.3" font-size="7.9" text-anchor="end" >20000</text>
<line x1="290.4" y1="866.4" x2="293.0" y2="866.4" stroke="#333" stroke-width="1.1" />
<text x="288.3" y="869.4" font-size="7.9" text-anchor="end" >15000</text>
<line x1="290.4" y1="891.5" x2="293.0" y2="891.5" stroke="#333" stroke-width="1.1" />
<text x="288.3" y="894.5" font-size="7.9" text-anchor="end" >10000</text>
<line x1="290.4" y1="916.6" x2="293.0" y2="916.6" stroke="#333" stroke-width="1.1" />
<text x="288.3" y="919.6" font-size="7.9" text-anchor="end" >5000</text>
<line x1="290.4" y1="941.7" x2="293.0" y2="941.7" stroke="#333" stroke-width="1.1" />
<text x="288.3" y="944.7" font-size="7.9" text-anchor="end" >0</text>
<line x1="293.0" y1="941.7" x2="293.0" y2="944.7" stroke="#333" stroke-width="1.1" />
<text x="293.0" y="953.4" font-size="7.9" text-anchor="middle" >0</text>
<line x1="330.8" y1="941.7" x2="330.8" y2="944.7" stroke="#333" stroke-width="1.1" />
<text x="330.8" y="953.4" font-size="7.9" text-anchor="middle" >1000</text>
<line x1="368.6" y1="941.7" x2="368.6" y2="944.7" stroke="#333" stroke-width="1.1" />
<text x="368.6" y="953.4" font-size="7.9" text-anchor="middle" >2000</text>
<line x1="406.4" y1="941.7" x2="406.4" y2="944.7" stroke="#333" stroke-width="1.1" />
<text x="406.4" y="953.4" font-size="7.9" text-anchor="middle" >3000</text>
<line x1="444.2" y1="941.7" x2="444.2" y2="944.7" stroke="#333" stroke-width="1.1" />
<text x="444.2" y="953.4" font-size="7.9" text-anchor="middle" >4000</text>
<circle cx="296.9" cy="931.8" r="2.2" fill="#000"/>
<circle cx="299.9" cy="921.9" r="2.2" fill="#000"/>
<circle cx="301.6" cy="920.6" r="2.2" fill="#000"/>
<circle cx="301.9" cy="913.2" r="2.2" fill="#000"/>
<circle cx="302.9" cy="918.6" r="2.2" fill="#000"/>
<circle cx="303.6" cy="914.9" r="2.2" fill="#000"/>
<circle cx="301.9" cy="929.3" r="2.2" fill="#000"/>
<circle cx="303.6" cy="928.6" r="2.2" fill="#000"/>
<circle cx="304.9" cy="928.1" r="2.2" fill="#000"/>
<circle cx="308.1" cy="908.5" r="2.2" fill="#000"/>
<circle cx="309.3" cy="928.6" r="2.2" fill="#000"/>
<circle cx="316.0" cy="921.4" r="2.2" fill="#000"/>
<circle cx="317.8" cy="905.2" r="2.2" fill="#000"/>
<circle cx="321.0" cy="925.3" r="2.2" fill="#000"/>
<circle cx="327.2" cy="914.9" r="2.2" fill="#000"/>
<circle cx="329.2" cy="913.9" r="2.2" fill="#000"/>
<circle cx="329.7" cy="900.3" r="2.2" fill="#000"/>
<circle cx="334.6" cy="912.4" r="2.2" fill="#000"/>
<circle cx="335.9" cy="905.0" r="2.2" fill="#000"/>
<circle cx="336.4" cy="903.0" r="2.2" fill="#000"/>
<circle cx="337.1" cy="913.9" r="2.2" fill="#000"/>
<circle cx="336.6" cy="884.1" r="2.2" fill="#000"/>
<circle cx="340.8" cy="909.5" r="2.2" fill="#000"/>
<circle cx="345.3" cy="891.3" r="2.2" fill="#000"/>
<circle cx="346.6" cy="890.1" r="2.2" fill="#000"/>
<circle cx="348.3" cy="899.0" r="2.2" fill="#000"/>
<circle cx="352.0" cy="886.6" r="2.2" fill="#000"/>
<circle cx="352.5" cy="903.8" r="2.2" fill="#000"/>
<circle cx="353.8" cy="887.4" r="2.2" fill="#000"/>
<circle cx="353.3" cy="894.6" r="2.2" fill="#000"/>
<circle cx="359.0" cy="913.4" r="2.2" fill="#000"/>
<circle cx="364.9" cy="876.4" r="2.2" fill="#000"/>
<circle cx="368.9" cy="893.8" r="2.2" fill="#000"/>
<circle cx="370.1" cy="882.4" r="2.2" fill="#000"/>
<circle cx="371.4" cy="897.0" r="2.2" fill="#000"/>
<circle cx="377.3" cy="867.3" r="2.2" fill="#000"/>
<circle cx="378.6" cy="906.5" r="2.2" fill="#000"/>
<circle cx="385.0" cy="887.6" r="2.2" fill="#000"/>
<circle cx="385.8" cy="885.4" r="2.2" fill="#000"/>
<circle cx="388.3" cy="878.9" r="2.2" fill="#000"/>
<circle cx="401.7" cy="881.9" r="2.2" fill="#000"/>
<circle cx="403.4" cy="856.3" r="2.2" fill="#000"/>
<line x1="297.4" y1="924.4" x2="403.6" y2="872.2" stroke="#000" stroke-width="1.2" />
<text x="305.4" y="828.6" font-size="9.9" fill="#111" stroke="#111" >GSE205450 (putamen region)</text>
<text transform="translate(263.1,891.0) rotate(-90)" font-size="7.9" text-anchor="middle">PINK1</text>
<text x="368.6" y="965.7" font-size="8.3" text-anchor="middle" >SMAD3</text>
<text x="414.5" y="869.0" font-size="8.2"><tspan font-style="italic">p</tspan>&lt;0.001</text>
<line x1="503.9" y1="837.1" x2="503.9" y2="941.3" stroke="#333" stroke-width="1.2" />
<line x1="503.3" y1="940.7" x2="660.5" y2="940.7" stroke="#333" stroke-width="1.2" />
<line x1="501.3" y1="837.1" x2="503.9" y2="837.1" stroke="#333" stroke-width="1.1" />
<text x="499.7" y="840.1" font-size="8.1" text-anchor="end" >20000</text>
<line x1="501.3" y1="863.0" x2="503.9" y2="863.0" stroke="#333" stroke-width="1.1" />
<text x="499.7" y="866.0" font-size="8.1" text-anchor="end" >15000</text>
<line x1="501.3" y1="888.9" x2="503.9" y2="888.9" stroke="#333" stroke-width="1.1" />
<text x="499.7" y="891.9" font-size="8.1" text-anchor="end" >10000</text>
<line x1="501.3" y1="914.8" x2="503.9" y2="914.8" stroke="#333" stroke-width="1.1" />
<text x="499.7" y="917.8" font-size="8.1" text-anchor="end" >5000</text>
<line x1="501.3" y1="940.7" x2="503.9" y2="940.7" stroke="#333" stroke-width="1.1" />
<text x="499.7" y="943.7" font-size="8.1" text-anchor="end" >0</text>
<line x1="503.9" y1="940.7" x2="503.9" y2="943.7" stroke="#333" stroke-width="1.1" />
<text x="503.9" y="953.0" font-size="8.1" text-anchor="middle" >0</text>
<line x1="556.1" y1="940.7" x2="556.1" y2="943.7" stroke="#333" stroke-width="1.1" />
<text x="556.1" y="953.0" font-size="8.1" text-anchor="middle" >1000</text>
<line x1="608.3" y1="940.7" x2="608.3" y2="943.7" stroke="#333" stroke-width="1.1" />
<text x="608.3" y="953.0" font-size="8.1" text-anchor="middle" >2000</text>
<line x1="660.5" y1="940.7" x2="660.5" y2="943.7" stroke="#333" stroke-width="1.1" />
<text x="660.5" y="953.0" font-size="8.1" text-anchor="middle" >3000</text>
<circle cx="514.9" cy="925.0" r="2.2" fill="#000"/>
<circle cx="518.7" cy="927.2" r="2.2" fill="#000"/>
<circle cx="521.8" cy="923.4" r="2.2" fill="#000"/>
<circle cx="523.4" cy="917.1" r="2.2" fill="#000"/>
<circle cx="528.7" cy="924.3" r="2.2" fill="#000"/>
<circle cx="530.6" cy="928.7" r="2.2" fill="#000"/>
<circle cx="531.8" cy="911.5" r="2.2" fill="#000"/>
<circle cx="540.6" cy="899.9" r="2.2" fill="#000"/>
<circle cx="542.8" cy="906.8" r="2.2" fill="#000"/>
<circle cx="550.0" cy="918.7" r="2.2" fill="#000"/>
<circle cx="551.0" cy="921.8" r="2.2" fill="#000"/>
<circle cx="554.7" cy="916.5" r="2.2" fill="#000"/>
<circle cx="558.5" cy="914.0" r="2.2" fill="#000"/>
<circle cx="558.8" cy="898.3" r="2.2" fill="#000"/>
<circle cx="560.4" cy="900.5" r="2.2" fill="#000"/>
<circle cx="561.7" cy="898.3" r="2.2" fill="#000"/>
<circle cx="562.0" cy="908.6" r="2.2" fill="#000"/>
<circle cx="567.9" cy="908.6" r="2.2" fill="#000"/>
<circle cx="569.2" cy="898.6" r="2.2" fill="#000"/>
<circle cx="578.9" cy="898.6" r="2.2" fill="#000"/>
<circle cx="582.4" cy="899.2" r="2.2" fill="#000"/>
<circle cx="586.8" cy="899.9" r="2.2" fill="#000"/>
<circle cx="587.1" cy="905.8" r="2.2" fill="#000"/>
<circle cx="588.6" cy="864.7" r="2.2" fill="#000"/>
<circle cx="595.5" cy="887.9" r="2.2" fill="#000"/>
<circle cx="599.3" cy="909.9" r="2.2" fill="#000"/>
<circle cx="603.4" cy="877.9" r="2.2" fill="#000"/>
<circle cx="610.6" cy="878.8" r="2.2" fill="#000"/>
<circle cx="611.2" cy="889.8" r="2.2" fill="#000"/>
<circle cx="614.4" cy="880.4" r="2.2" fill="#000"/>
<circle cx="617.5" cy="890.8" r="2.2" fill="#000"/>
<circle cx="620.7" cy="867.5" r="2.2" fill="#000"/>
<circle cx="622.9" cy="893.0" r="2.2" fill="#000"/>
<circle cx="624.7" cy="896.7" r="2.2" fill="#000"/>
<circle cx="630.1" cy="885.7" r="2.2" fill="#000"/>
<circle cx="633.2" cy="899.9" r="2.2" fill="#000"/>
<circle cx="636.4" cy="876.3" r="2.2" fill="#000"/>
<circle cx="646.4" cy="883.5" r="2.2" fill="#000"/>
<line x1="513.9" y1="923.4" x2="646.4" y2="876.3" stroke="#000" stroke-width="1.2" />
<text x="520.8" y="823.9" font-size="10.1" fill="#111" stroke="#111" >GSE205450 (caudate region)</text>
<text transform="translate(473.9,888.4) rotate(-90)" font-size="7.9" text-anchor="middle">PINK1</text>
<text x="582.5" y="965.7" font-size="8.3" text-anchor="middle" >SMAD3</text>
<text x="656.8" y="875.6" font-size="8.2"><tspan font-style="italic">p</tspan>&lt;0.001</text>
</svg></body></html>
